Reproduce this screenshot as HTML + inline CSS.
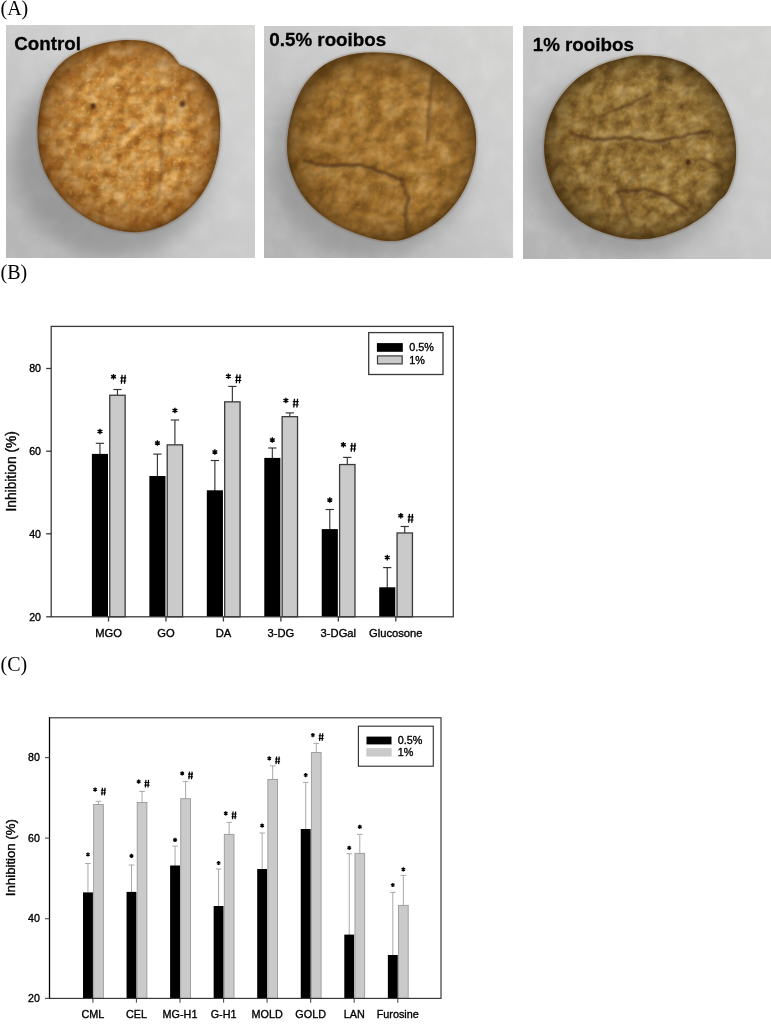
<!DOCTYPE html>
<html><head><meta charset="utf-8"><style>
html,body{margin:0;padding:0;background:#fff;}
body{width:771px;height:1032px;overflow:hidden;font-family:"Liberation Sans",sans-serif;}
svg{display:block;will-change:transform;}
</style></head><body>
<svg width="771" height="1032" viewBox="0 0 771 1032">
<defs><filter id="cf1" filterUnits="userSpaceOnUse" x="6" y="25" width="249" height="233" color-interpolation-filters="sRGB">
  <feTurbulence type="fractalNoise" baseFrequency="0.07" numOctaves="4" seed="11" result="n"/>
  <feColorMatrix in="n" type="matrix" values="1 0 0 0 0  1 0 0 0 0  1 0 0 0 0  0 0 0 0 1" result="g"/>
  <feComponentTransfer in="g" result="c">
    <feFuncR type="table" tableValues="0.573 0.596 0.620 0.643 0.667 0.690 0.714 0.736 0.759 0.781 0.804 0.821 0.837 0.854 0.871 0.880 0.889 0.898 0.907 0.916 0.925"/>
    <feFuncG type="table" tableValues="0.322 0.345 0.369 0.392 0.416 0.439 0.463 0.490 0.518 0.545 0.573 0.598 0.624 0.649 0.675 0.692 0.708 0.725 0.742 0.759 0.776"/>
    <feFuncB type="table" tableValues="0.094 0.108 0.123 0.137 0.152 0.166 0.180 0.202 0.224 0.245 0.267 0.298 0.329 0.361 0.392 0.418 0.444 0.471 0.497 0.523 0.549"/>
  </feComponentTransfer>
  <feTurbulence type="fractalNoise" baseFrequency="0.112" numOctaves="2" seed="31" result="n2"/>
  <feColorMatrix in="n2" type="matrix" values="0 0 0 0 0  0 0 0 0 0  0 0 0 0 0  1 0 0 0 0" result="h0"/>
  <feGaussianBlur in="h0" stdDeviation="1.2" result="h"/>
  <feDiffuseLighting in="h" surfaceScale="3" diffuseConstant="1.0" lighting-color="#fff" result="l">
    <feDistantLight azimuth="235" elevation="50"/>
  </feDiffuseLighting>
  <feComposite in="c" in2="l" operator="arithmetic" k1="0.4" k2="0.66" k3="0" k4="0" result="m"/>
  <feTurbulence type="fractalNoise" baseFrequency="0.22" numOctaves="2" seed="51" result="n3"/>
  <feColorMatrix in="n3" type="matrix" values="0 0 0 0 0.933  0 0 0 0 0.824  0 0 0 0 0.627  6 0 0 0 -3.7" result="sp"/>
  <feComponentTransfer in="sp" result="sp2"><feFuncA type="linear" slope="0.32"/></feComponentTransfer>
  <feComposite in="sp2" in2="m" operator="over" result="m2"/>
  <feComposite in="m2" in2="SourceAlpha" operator="in"/>
</filter><filter id="cf2" filterUnits="userSpaceOnUse" x="264" y="26" width="249" height="232" color-interpolation-filters="sRGB">
  <feTurbulence type="fractalNoise" baseFrequency="0.06" numOctaves="4" seed="5" result="n"/>
  <feColorMatrix in="n" type="matrix" values="1 0 0 0 0  1 0 0 0 0  1 0 0 0 0  0 0 0 0 1" result="g"/>
  <feComponentTransfer in="g" result="c">
    <feFuncR type="table" tableValues="0.463 0.484 0.505 0.525 0.546 0.567 0.588 0.608 0.627 0.647 0.667 0.682 0.698 0.714 0.729 0.740 0.750 0.761 0.771 0.782 0.792"/>
    <feFuncG type="table" tableValues="0.306 0.323 0.340 0.357 0.374 0.391 0.408 0.425 0.441 0.458 0.475 0.493 0.512 0.530 0.549 0.562 0.575 0.588 0.601 0.614 0.627"/>
    <feFuncB type="table" tableValues="0.098 0.109 0.120 0.131 0.142 0.154 0.165 0.175 0.184 0.194 0.204 0.224 0.243 0.263 0.282 0.298 0.314 0.329 0.345 0.361 0.376"/>
  </feComponentTransfer>
  <feTurbulence type="fractalNoise" baseFrequency="0.096" numOctaves="2" seed="25" result="n2"/>
  <feColorMatrix in="n2" type="matrix" values="0 0 0 0 0  0 0 0 0 0  0 0 0 0 0  1 0 0 0 0" result="h0"/>
  <feGaussianBlur in="h0" stdDeviation="1.2" result="h"/>
  <feDiffuseLighting in="h" surfaceScale="3" diffuseConstant="1.0" lighting-color="#fff" result="l">
    <feDistantLight azimuth="235" elevation="50"/>
  </feDiffuseLighting>
  <feComposite in="c" in2="l" operator="arithmetic" k1="0.4" k2="0.66" k3="0" k4="0" result="m"/>
  <feTurbulence type="fractalNoise" baseFrequency="0.22" numOctaves="2" seed="45" result="n3"/>
  <feColorMatrix in="n3" type="matrix" values="0 0 0 0 0.804  0 0 0 0 0.647  0 0 0 0 0.392  6 0 0 0 -3.7" result="sp"/>
  <feComponentTransfer in="sp" result="sp2"><feFuncA type="linear" slope="0.22"/></feComponentTransfer>
  <feComposite in="sp2" in2="m" operator="over" result="m2"/>
  <feComposite in="m2" in2="SourceAlpha" operator="in"/>
</filter><filter id="cf3" filterUnits="userSpaceOnUse" x="523" y="26" width="248" height="233" color-interpolation-filters="sRGB">
  <feTurbulence type="fractalNoise" baseFrequency="0.07" numOctaves="4" seed="8" result="n"/>
  <feColorMatrix in="n" type="matrix" values="1 0 0 0 0  1 0 0 0 0  1 0 0 0 0  0 0 0 0 1" result="g"/>
  <feComponentTransfer in="g" result="c">
    <feFuncR type="table" tableValues="0.345 0.373 0.400 0.427 0.455 0.482 0.510 0.535 0.561 0.586 0.612 0.632 0.653 0.674 0.694 0.706 0.718 0.729 0.741 0.753 0.765"/>
    <feFuncG type="table" tableValues="0.243 0.265 0.288 0.310 0.332 0.354 0.376 0.401 0.425 0.450 0.475 0.498 0.522 0.545 0.569 0.582 0.596 0.610 0.624 0.637 0.651"/>
    <feFuncB type="table" tableValues="0.098 0.110 0.123 0.135 0.148 0.160 0.173 0.186 0.200 0.214 0.227 0.251 0.275 0.298 0.322 0.339 0.356 0.373 0.390 0.407 0.424"/>
  </feComponentTransfer>
  <feTurbulence type="fractalNoise" baseFrequency="0.112" numOctaves="2" seed="28" result="n2"/>
  <feColorMatrix in="n2" type="matrix" values="0 0 0 0 0  0 0 0 0 0  0 0 0 0 0  1 0 0 0 0" result="h0"/>
  <feGaussianBlur in="h0" stdDeviation="1.2" result="h"/>
  <feDiffuseLighting in="h" surfaceScale="3" diffuseConstant="1.0" lighting-color="#fff" result="l">
    <feDistantLight azimuth="235" elevation="50"/>
  </feDiffuseLighting>
  <feComposite in="c" in2="l" operator="arithmetic" k1="0.4" k2="0.66" k3="0" k4="0" result="m"/>
  <feTurbulence type="fractalNoise" baseFrequency="0.22" numOctaves="2" seed="48" result="n3"/>
  <feColorMatrix in="n3" type="matrix" values="0 0 0 0 0.784  0 0 0 0 0.690  0 0 0 0 0.486  6 0 0 0 -3.7" result="sp"/>
  <feComponentTransfer in="sp" result="sp2"><feFuncA type="linear" slope="0.22"/></feComponentTransfer>
  <feComposite in="sp2" in2="m" operator="over" result="m2"/>
  <feComposite in="m2" in2="SourceAlpha" operator="in"/>
</filter><filter id="bf1" filterUnits="userSpaceOnUse" x="6" y="25" width="249" height="233" color-interpolation-filters="sRGB">
  <feTurbulence type="fractalNoise" baseFrequency="0.05" numOctaves="3" seed="3" result="n"/>
  <feColorMatrix in="n" type="matrix" values="0 0 0 0 1  0 0 0 0 1  0 0 0 0 1  1.4 0 0 0 -0.55" result="a"/>
  <feComposite in="a" in2="SourceAlpha" operator="in"/>
</filter><filter id="bf2" filterUnits="userSpaceOnUse" x="264" y="26" width="249" height="232" color-interpolation-filters="sRGB">
  <feTurbulence type="fractalNoise" baseFrequency="0.05" numOctaves="3" seed="6" result="n"/>
  <feColorMatrix in="n" type="matrix" values="0 0 0 0 1  0 0 0 0 1  0 0 0 0 1  1.4 0 0 0 -0.55" result="a"/>
  <feComposite in="a" in2="SourceAlpha" operator="in"/>
</filter><filter id="bf3" filterUnits="userSpaceOnUse" x="523" y="26" width="248" height="233" color-interpolation-filters="sRGB">
  <feTurbulence type="fractalNoise" baseFrequency="0.05" numOctaves="3" seed="9" result="n"/>
  <feColorMatrix in="n" type="matrix" values="0 0 0 0 1  0 0 0 0 1  0 0 0 0 1  1.4 0 0 0 -0.55" result="a"/>
  <feComposite in="a" in2="SourceAlpha" operator="in"/>
</filter>
<linearGradient id="bg1" x1="1" y1="0" x2="0" y2="1">
  <stop offset="0" stop-color="#d4d5d3"/><stop offset="0.45" stop-color="#cbcccb"/><stop offset="1" stop-color="#b4b4b5"/>
</linearGradient>
<linearGradient id="bg2" x1="1" y1="0" x2="0" y2="1">
  <stop offset="0" stop-color="#d3d4d2"/><stop offset="0.45" stop-color="#c9cac9"/><stop offset="1" stop-color="#b0b0b1"/>
</linearGradient>
<linearGradient id="bg3" x1="1" y1="0" x2="0" y2="1">
  <stop offset="0" stop-color="#d2d3d1"/><stop offset="0.45" stop-color="#c9cac9"/><stop offset="1" stop-color="#b2b2b3"/>
</linearGradient>
<radialGradient id="rim1" cx="0.5" cy="0.5" r="0.5"><stop offset="0.66" stop-color="#5a3010" stop-opacity="0"/><stop offset="0.88" stop-color="#6a3810" stop-opacity="0.3"/><stop offset="1" stop-color="#4a2808" stop-opacity="0.6"/></radialGradient><linearGradient id="sh1" x1="0" y1="1" x2="1" y2="0"><stop offset="0" stop-color="#3a2008" stop-opacity="0.22"/><stop offset="0.5" stop-color="#3a2008" stop-opacity="0"/><stop offset="1" stop-color="#fff" stop-opacity="0.06"/></linearGradient>
<radialGradient id="rim2" cx="0.5" cy="0.5" r="0.5"><stop offset="0.72" stop-color="#4a3010" stop-opacity="0"/><stop offset="0.9" stop-color="#4a3010" stop-opacity="0.28"/><stop offset="1" stop-color="#3a2508" stop-opacity="0.6"/></radialGradient><linearGradient id="sh2" x1="0" y1="1" x2="1" y2="0"><stop offset="0" stop-color="#3a2008" stop-opacity="0.22"/><stop offset="0.5" stop-color="#3a2008" stop-opacity="0"/><stop offset="1" stop-color="#fff" stop-opacity="0.06"/></linearGradient>
<radialGradient id="rim3" cx="0.5" cy="0.5" r="0.5"><stop offset="0.72" stop-color="#3a2a10" stop-opacity="0"/><stop offset="0.9" stop-color="#3a2a10" stop-opacity="0.28"/><stop offset="1" stop-color="#302008" stop-opacity="0.6"/></radialGradient><linearGradient id="sh3" x1="0" y1="1" x2="1" y2="0"><stop offset="0" stop-color="#3a2008" stop-opacity="0.22"/><stop offset="0.5" stop-color="#3a2008" stop-opacity="0"/><stop offset="1" stop-color="#fff" stop-opacity="0.06"/></linearGradient>
<filter id="blur6" x="-30%" y="-30%" width="160%" height="160%"><feGaussianBlur stdDeviation="10"/></filter>
<filter id="blur1" x="-20%" y="-20%" width="140%" height="140%"><feGaussianBlur stdDeviation="1"/></filter>
<filter id="blur2" x="-30%" y="-30%" width="160%" height="160%"><feGaussianBlur stdDeviation="1.8"/></filter>
<filter id="blur08" x="-20%" y="-20%" width="140%" height="140%"><feGaussianBlur stdDeviation="0.8"/></filter>
</defs>
<rect width="771" height="1032" fill="#fff"/>
<clipPath id="cp1"><rect x="6" y="25" width="249" height="233"/></clipPath>
<g clip-path="url(#cp1)">
<rect x="6" y="25" width="249" height="233" fill="url(#bg1)"/>
<rect x="6" y="25" width="249" height="233" fill="#fff" opacity="0.18" filter="url(#bf1)"/>
<ellipse cx="112" cy="160" rx="100" ry="98" fill="#5a5a5c" opacity="0.36" filter="url(#blur6)"/>
<path d="M46.8,83.8 C50.7,75.7 55.9,67.9 62.9,61.8 C69.8,55.8 79.2,51.1 88.3,47.5 C97.4,44.0 109.0,41.8 117.4,40.7 C125.9,39.5 132.9,40.1 139.1,40.6 C145.3,41.1 150.0,42.4 154.4,43.8 C158.8,45.2 162.4,47.2 165.4,49.1 C168.4,50.9 170.6,53.1 172.5,54.9 C174.3,56.8 175.2,58.7 176.4,60.3 C177.6,61.9 178.3,63.3 179.8,64.4 C181.3,65.4 182.8,65.6 185.2,66.7 C187.5,67.8 191.0,69.1 193.9,70.8 C196.7,72.5 199.8,74.6 202.3,76.7 C204.8,78.8 206.9,80.8 208.8,83.3 C210.8,85.7 212.6,88.3 214.1,91.3 C215.5,94.3 216.8,97.6 217.7,101.3 C218.6,105.0 219.0,108.7 219.4,113.3 C219.9,117.9 220.4,122.1 220.2,129.1 C219.9,136.0 219.7,146.1 217.8,155.0 C215.8,163.9 213.1,173.9 208.7,182.5 C204.3,191.1 198.4,199.6 191.5,206.5 C184.6,213.4 176.1,219.5 167.5,223.7 C158.9,227.9 149.2,231.1 140.0,232.0 C130.8,232.8 121.2,231.5 112.0,229.0 C102.8,226.4 93.1,222.2 84.5,216.7 C75.9,211.2 67.3,203.9 60.5,195.9 C53.8,188.0 47.6,178.2 43.8,169.0 C40.1,159.8 38.6,150.3 37.8,140.5 C37.1,130.7 37.8,119.7 39.3,110.3 C40.8,100.9 42.9,91.9 46.8,83.8Z" fill="#000" filter="url(#cf1)"/>
<clipPath id="ckc1"><path d="M46.8,83.8 C50.7,75.7 55.9,67.9 62.9,61.8 C69.8,55.8 79.2,51.1 88.3,47.5 C97.4,44.0 109.0,41.8 117.4,40.7 C125.9,39.5 132.9,40.1 139.1,40.6 C145.3,41.1 150.0,42.4 154.4,43.8 C158.8,45.2 162.4,47.2 165.4,49.1 C168.4,50.9 170.6,53.1 172.5,54.9 C174.3,56.8 175.2,58.7 176.4,60.3 C177.6,61.9 178.3,63.3 179.8,64.4 C181.3,65.4 182.8,65.6 185.2,66.7 C187.5,67.8 191.0,69.1 193.9,70.8 C196.7,72.5 199.8,74.6 202.3,76.7 C204.8,78.8 206.9,80.8 208.8,83.3 C210.8,85.7 212.6,88.3 214.1,91.3 C215.5,94.3 216.8,97.6 217.7,101.3 C218.6,105.0 219.0,108.7 219.4,113.3 C219.9,117.9 220.4,122.1 220.2,129.1 C219.9,136.0 219.7,146.1 217.8,155.0 C215.8,163.9 213.1,173.9 208.7,182.5 C204.3,191.1 198.4,199.6 191.5,206.5 C184.6,213.4 176.1,219.5 167.5,223.7 C158.9,227.9 149.2,231.1 140.0,232.0 C130.8,232.8 121.2,231.5 112.0,229.0 C102.8,226.4 93.1,222.2 84.5,216.7 C75.9,211.2 67.3,203.9 60.5,195.9 C53.8,188.0 47.6,178.2 43.8,169.0 C40.1,159.8 38.6,150.3 37.8,140.5 C37.1,130.7 37.8,119.7 39.3,110.3 C40.8,100.9 42.9,91.9 46.8,83.8Z"/></clipPath><g clip-path="url(#ckc1)">
<path d="M165.8,109.8 C165.8,110.5 165.6,112.5 165.5,113.9 C165.4,115.2 165.6,116.6 165.2,117.9 C164.9,119.2 163.8,120.4 163.6,121.8 C163.4,123.1 164.3,124.6 164.1,125.9 C164.0,127.3 162.9,128.5 162.6,129.8 C162.3,131.1 162.4,132.5 162.3,133.8 C162.3,135.2 162.6,136.6 162.3,137.9 C162.0,139.3 160.8,140.5 160.8,141.8 C160.7,143.1 161.9,144.6 162.0,146.0 C162.1,147.5 161.4,148.9 161.5,150.4 C161.6,151.8 162.3,153.2 162.5,154.6 C162.7,156.0 162.8,157.5 162.8,158.9 C162.7,160.3 162.5,161.8 162.4,163.2 C162.2,164.7 161.7,166.1 161.9,167.6 C162.1,169.0 163.4,170.5 163.5,171.9 C163.7,173.3 163.1,174.8 162.8,176.2 C162.4,177.6 161.8,178.9 161.4,180.3 C161.0,181.7 160.4,183.1 160.2,184.5 C160.0,186.0 160.4,187.5 160.4,188.9 C160.4,190.4 160.5,191.8 160.1,193.3 C159.8,194.7 158.7,196.0 158.4,197.4 C158.2,198.8 158.7,201.1 158.8,201.8" fill="none" stroke="#f0d8a8" stroke-width="1.80" stroke-linecap="round" opacity="0.12" filter="url(#blur1)"/>
<path d="M165.0,108.0 C165.0,108.7 164.8,110.7 164.7,112.1 C164.6,113.4 164.8,114.8 164.4,116.1 C164.1,117.4 163.0,118.6 162.8,120.0 C162.6,121.3 163.5,122.8 163.3,124.1 C163.2,125.5 162.1,126.7 161.8,128.0 C161.5,129.3 161.6,130.7 161.5,132.0 C161.5,133.4 161.8,134.8 161.5,136.1 C161.2,137.5 160.0,138.7 160.0,140.0 C159.9,141.3 161.1,142.8 161.2,144.2 C161.3,145.7 160.6,147.1 160.7,148.6 C160.8,150.0 161.5,151.4 161.7,152.8 C161.9,154.2 162.0,155.7 162.0,157.1 C161.9,158.5 161.7,160.0 161.6,161.4 C161.4,162.9 160.9,164.3 161.1,165.8 C161.3,167.2 162.6,168.7 162.7,170.1 C162.9,171.5 162.3,173.0 162.0,174.4 C161.6,175.8 161.0,177.1 160.6,178.5 C160.2,179.9 159.6,181.3 159.4,182.7 C159.2,184.2 159.6,185.7 159.6,187.1 C159.6,188.6 159.7,190.0 159.3,191.5 C159.0,192.9 157.9,194.2 157.6,195.6 C157.4,197.0 157.9,199.3 158.0,200.0" fill="none" stroke="#3a2410" stroke-width="4.00" stroke-linecap="round" opacity="0.12" filter="url(#blur2)"/>
<path d="M165.0,108.0 C165.0,108.7 164.8,110.7 164.7,112.1 C164.6,113.4 164.8,114.8 164.4,116.1 C164.1,117.4 163.0,118.6 162.8,120.0 C162.6,121.3 163.5,122.8 163.3,124.1 C163.2,125.5 162.1,126.7 161.8,128.0 C161.5,129.3 161.6,130.7 161.5,132.0 C161.5,133.4 161.8,134.8 161.5,136.1 C161.2,137.5 160.0,138.7 160.0,140.0 C159.9,141.3 161.1,142.8 161.2,144.2 C161.3,145.7 160.6,147.1 160.7,148.6 C160.8,150.0 161.5,151.4 161.7,152.8 C161.9,154.2 162.0,155.7 162.0,157.1 C161.9,158.5 161.7,160.0 161.6,161.4 C161.4,162.9 160.9,164.3 161.1,165.8 C161.3,167.2 162.6,168.7 162.7,170.1 C162.9,171.5 162.3,173.0 162.0,174.4 C161.6,175.8 161.0,177.1 160.6,178.5 C160.2,179.9 159.6,181.3 159.4,182.7 C159.2,184.2 159.6,185.7 159.6,187.1 C159.6,188.6 159.7,190.0 159.3,191.5 C159.0,192.9 157.9,194.2 157.6,195.6 C157.4,197.0 157.9,199.3 158.0,200.0" fill="none" stroke="#4a2c12" stroke-width="1.90" stroke-linecap="round" opacity="0.30" filter="url(#blur08)"/>
<path d="M200.8,79.8 C201.3,80.3 203.2,81.5 203.9,82.7 C204.6,83.9 204.3,85.8 205.0,87.0 C205.7,88.2 207.3,88.8 208.3,89.8 C209.3,90.8 210.2,91.8 211.0,93.0 C211.7,94.2 212.5,96.2 212.8,96.8" fill="none" stroke="#f0d8a8" stroke-width="2.25" stroke-linecap="round" opacity="0.14" filter="url(#blur1)"/>
<path d="M200.0,78.0 C200.5,78.5 202.4,79.7 203.1,80.9 C203.8,82.1 203.5,84.0 204.2,85.2 C204.9,86.4 206.5,87.0 207.5,88.0 C208.5,89.0 209.4,90.0 210.2,91.2 C210.9,92.4 211.7,94.4 212.0,95.0" fill="none" stroke="#3a2410" stroke-width="5.00" stroke-linecap="round" opacity="0.14" filter="url(#blur2)"/>
<path d="M200.0,78.0 C200.5,78.5 202.4,79.7 203.1,80.9 C203.8,82.1 203.5,84.0 204.2,85.2 C204.9,86.4 206.5,87.0 207.5,88.0 C208.5,89.0 209.4,90.0 210.2,91.2 C210.9,92.4 211.7,94.4 212.0,95.0" fill="none" stroke="#4a2c12" stroke-width="2.38" stroke-linecap="round" opacity="0.34" filter="url(#blur08)"/>
<ellipse cx="93" cy="106" rx="2.6" ry="3.12" fill="#3a1e08" opacity="0.85" filter="url(#blur08)"/>
<ellipse cx="182.5" cy="104" rx="2.8" ry="3.36" fill="#3a1e08" opacity="0.8" filter="url(#blur08)"/>
<ellipse cx="172" cy="80" rx="1.5" ry="1.80" fill="#3a1e08" opacity="0.4" filter="url(#blur08)"/>
</g>
<path d="M46.8,83.8 C50.7,75.7 55.9,67.9 62.9,61.8 C69.8,55.8 79.2,51.1 88.3,47.5 C97.4,44.0 109.0,41.8 117.4,40.7 C125.9,39.5 132.9,40.1 139.1,40.6 C145.3,41.1 150.0,42.4 154.4,43.8 C158.8,45.2 162.4,47.2 165.4,49.1 C168.4,50.9 170.6,53.1 172.5,54.9 C174.3,56.8 175.2,58.7 176.4,60.3 C177.6,61.9 178.3,63.3 179.8,64.4 C181.3,65.4 182.8,65.6 185.2,66.7 C187.5,67.8 191.0,69.1 193.9,70.8 C196.7,72.5 199.8,74.6 202.3,76.7 C204.8,78.8 206.9,80.8 208.8,83.3 C210.8,85.7 212.6,88.3 214.1,91.3 C215.5,94.3 216.8,97.6 217.7,101.3 C218.6,105.0 219.0,108.7 219.4,113.3 C219.9,117.9 220.4,122.1 220.2,129.1 C219.9,136.0 219.7,146.1 217.8,155.0 C215.8,163.9 213.1,173.9 208.7,182.5 C204.3,191.1 198.4,199.6 191.5,206.5 C184.6,213.4 176.1,219.5 167.5,223.7 C158.9,227.9 149.2,231.1 140.0,232.0 C130.8,232.8 121.2,231.5 112.0,229.0 C102.8,226.4 93.1,222.2 84.5,216.7 C75.9,211.2 67.3,203.9 60.5,195.9 C53.8,188.0 47.6,178.2 43.8,169.0 C40.1,159.8 38.6,150.3 37.8,140.5 C37.1,130.7 37.8,119.7 39.3,110.3 C40.8,100.9 42.9,91.9 46.8,83.8Z" fill="url(#sh1)"/>
<path d="M46.8,83.8 C50.7,75.7 55.9,67.9 62.9,61.8 C69.8,55.8 79.2,51.1 88.3,47.5 C97.4,44.0 109.0,41.8 117.4,40.7 C125.9,39.5 132.9,40.1 139.1,40.6 C145.3,41.1 150.0,42.4 154.4,43.8 C158.8,45.2 162.4,47.2 165.4,49.1 C168.4,50.9 170.6,53.1 172.5,54.9 C174.3,56.8 175.2,58.7 176.4,60.3 C177.6,61.9 178.3,63.3 179.8,64.4 C181.3,65.4 182.8,65.6 185.2,66.7 C187.5,67.8 191.0,69.1 193.9,70.8 C196.7,72.5 199.8,74.6 202.3,76.7 C204.8,78.8 206.9,80.8 208.8,83.3 C210.8,85.7 212.6,88.3 214.1,91.3 C215.5,94.3 216.8,97.6 217.7,101.3 C218.6,105.0 219.0,108.7 219.4,113.3 C219.9,117.9 220.4,122.1 220.2,129.1 C219.9,136.0 219.7,146.1 217.8,155.0 C215.8,163.9 213.1,173.9 208.7,182.5 C204.3,191.1 198.4,199.6 191.5,206.5 C184.6,213.4 176.1,219.5 167.5,223.7 C158.9,227.9 149.2,231.1 140.0,232.0 C130.8,232.8 121.2,231.5 112.0,229.0 C102.8,226.4 93.1,222.2 84.5,216.7 C75.9,211.2 67.3,203.9 60.5,195.9 C53.8,188.0 47.6,178.2 43.8,169.0 C40.1,159.8 38.6,150.3 37.8,140.5 C37.1,130.7 37.8,119.7 39.3,110.3 C40.8,100.9 42.9,91.9 46.8,83.8Z" fill="url(#rim1)"/>
<path d="M46.8,83.8 C50.7,75.7 55.9,67.9 62.9,61.8 C69.8,55.8 79.2,51.1 88.3,47.5 C97.4,44.0 109.0,41.8 117.4,40.7 C125.9,39.5 132.9,40.1 139.1,40.6 C145.3,41.1 150.0,42.4 154.4,43.8 C158.8,45.2 162.4,47.2 165.4,49.1 C168.4,50.9 170.6,53.1 172.5,54.9 C174.3,56.8 175.2,58.7 176.4,60.3 C177.6,61.9 178.3,63.3 179.8,64.4 C181.3,65.4 182.8,65.6 185.2,66.7 C187.5,67.8 191.0,69.1 193.9,70.8 C196.7,72.5 199.8,74.6 202.3,76.7 C204.8,78.8 206.9,80.8 208.8,83.3 C210.8,85.7 212.6,88.3 214.1,91.3 C215.5,94.3 216.8,97.6 217.7,101.3 C218.6,105.0 219.0,108.7 219.4,113.3 C219.9,117.9 220.4,122.1 220.2,129.1 C219.9,136.0 219.7,146.1 217.8,155.0 C215.8,163.9 213.1,173.9 208.7,182.5 C204.3,191.1 198.4,199.6 191.5,206.5 C184.6,213.4 176.1,219.5 167.5,223.7 C158.9,227.9 149.2,231.1 140.0,232.0 C130.8,232.8 121.2,231.5 112.0,229.0 C102.8,226.4 93.1,222.2 84.5,216.7 C75.9,211.2 67.3,203.9 60.5,195.9 C53.8,188.0 47.6,178.2 43.8,169.0 C40.1,159.8 38.6,150.3 37.8,140.5 C37.1,130.7 37.8,119.7 39.3,110.3 C40.8,100.9 42.9,91.9 46.8,83.8Z" fill="none" stroke="#4a2c10" stroke-width="1.6" opacity="0.45" filter="url(#blur08)"/>
</g>
<text x="14.20" y="50.40" font-family="Liberation Sans" font-size="18.8" font-weight="bold" text-anchor="start" fill="#000" stroke="#000" stroke-width="0.3">Control</text>
<clipPath id="cp2"><rect x="264" y="26" width="249" height="232"/></clipPath>
<g clip-path="url(#cp2)">
<rect x="264" y="26" width="249" height="232" fill="url(#bg2)"/>
<rect x="264" y="26" width="249" height="232" fill="#fff" opacity="0.18" filter="url(#bf2)"/>
<ellipse cx="370" cy="162" rx="100" ry="97" fill="#5a5a5c" opacity="0.32" filter="url(#blur6)"/>
<path d="M371.0,52.6 C380.7,52.2 391.9,52.8 401.0,54.6 C410.0,56.3 418.3,59.4 425.5,63.1 C432.7,66.7 438.2,71.5 444.0,76.6 C449.9,81.6 456.0,86.7 460.8,93.3 C465.5,100.0 469.9,108.5 472.5,116.5 C475.1,124.5 476.2,132.8 476.2,141.5 C476.2,150.3 475.2,159.8 472.5,169.0 C469.8,178.2 465.9,187.9 460.3,196.5 C454.7,205.1 447.3,213.8 439.0,220.5 C430.7,227.3 419.3,233.5 410.6,236.9 C401.9,240.3 395.5,241.4 386.9,241.0 C378.4,240.6 369.0,238.0 359.5,234.6 C349.9,231.1 338.5,226.4 329.6,220.5 C320.6,214.7 311.9,207.5 305.6,199.5 C299.2,191.6 294.6,181.9 291.5,173.1 C288.4,164.3 287.1,156.3 287.1,147.0 C287.0,137.6 288.5,126.6 290.9,117.0 C293.4,107.5 296.9,97.6 301.6,89.5 C306.2,81.5 312.1,74.3 319.1,68.8 C326.0,63.3 334.4,59.3 343.0,56.6 C351.7,53.9 361.4,52.9 371.0,52.6Z" fill="#000" filter="url(#cf2)"/>
<clipPath id="ckc2"><path d="M371.0,52.6 C380.7,52.2 391.9,52.8 401.0,54.6 C410.0,56.3 418.3,59.4 425.5,63.1 C432.7,66.7 438.2,71.5 444.0,76.6 C449.9,81.6 456.0,86.7 460.8,93.3 C465.5,100.0 469.9,108.5 472.5,116.5 C475.1,124.5 476.2,132.8 476.2,141.5 C476.2,150.3 475.2,159.8 472.5,169.0 C469.8,178.2 465.9,187.9 460.3,196.5 C454.7,205.1 447.3,213.8 439.0,220.5 C430.7,227.3 419.3,233.5 410.6,236.9 C401.9,240.3 395.5,241.4 386.9,241.0 C378.4,240.6 369.0,238.0 359.5,234.6 C349.9,231.1 338.5,226.4 329.6,220.5 C320.6,214.7 311.9,207.5 305.6,199.5 C299.2,191.6 294.6,181.9 291.5,173.1 C288.4,164.3 287.1,156.3 287.1,147.0 C287.0,137.6 288.5,126.6 290.9,117.0 C293.4,107.5 296.9,97.6 301.6,89.5 C306.2,81.5 312.1,74.3 319.1,68.8 C326.0,63.3 334.4,59.3 343.0,56.6 C351.7,53.9 361.4,52.9 371.0,52.6Z"/></clipPath><g clip-path="url(#ckc2)">
<path d="M304.8,162.8 C305.5,162.8 307.6,162.8 309.0,163.1 C310.3,163.3 311.6,163.9 312.9,164.4 C314.2,165.0 315.3,166.1 316.6,166.4 C318.0,166.7 319.5,166.0 320.8,166.2 C322.2,166.3 323.5,166.9 324.8,167.2 C326.1,167.4 327.4,167.5 328.8,167.5 C330.1,167.5 331.5,167.1 332.8,167.1 C334.1,167.2 335.5,167.7 336.8,167.7 C338.1,167.7 339.4,167.1 340.8,166.9 C342.1,166.8 343.4,166.7 344.8,166.7 C346.1,166.7 347.4,166.7 348.8,166.8 C350.1,167.0 351.5,167.6 352.8,167.6 C354.2,167.6 355.4,167.0 356.8,166.9 C358.1,166.7 359.5,166.2 360.9,166.4 C362.3,166.7 363.7,167.9 365.1,168.4 C366.6,168.9 368.1,169.1 369.6,169.5 C371.1,169.9 372.7,170.0 374.1,170.6 C375.6,171.2 376.8,172.4 378.2,173.0 C379.6,173.6 381.2,173.8 382.7,174.2 C384.1,174.5 385.6,174.4 387.0,174.9 C388.3,175.4 389.4,176.5 390.7,177.1 C392.0,177.8 393.5,178.0 394.8,178.6 C396.1,179.3 397.2,180.4 398.5,180.9 C399.9,181.4 402.1,181.6 402.8,181.8" fill="none" stroke="#f0d8a8" stroke-width="2.16" stroke-linecap="round" opacity="0.26" filter="url(#blur1)"/>
<path d="M304.0,161.0 C304.7,161.0 306.8,161.0 308.2,161.3 C309.5,161.5 310.8,162.1 312.1,162.6 C313.4,163.2 314.5,164.3 315.8,164.6 C317.2,164.9 318.7,164.2 320.0,164.4 C321.4,164.5 322.7,165.1 324.0,165.4 C325.3,165.6 326.6,165.7 328.0,165.7 C329.3,165.7 330.7,165.3 332.0,165.3 C333.3,165.4 334.7,165.9 336.0,165.9 C337.3,165.9 338.6,165.3 340.0,165.1 C341.3,165.0 342.6,164.9 344.0,164.9 C345.3,164.9 346.6,164.9 348.0,165.0 C349.3,165.2 350.7,165.8 352.0,165.8 C353.4,165.8 354.6,165.2 356.0,165.1 C357.3,164.9 358.7,164.4 360.1,164.6 C361.5,164.9 362.9,166.1 364.3,166.6 C365.8,167.1 367.3,167.3 368.8,167.7 C370.3,168.1 371.9,168.2 373.3,168.8 C374.8,169.4 376.0,170.6 377.4,171.2 C378.8,171.8 380.4,172.0 381.9,172.4 C383.3,172.7 384.8,172.6 386.2,173.1 C387.5,173.6 388.6,174.7 389.9,175.3 C391.2,176.0 392.7,176.2 394.0,176.8 C395.3,177.5 396.4,178.6 397.7,179.1 C399.1,179.6 401.3,179.8 402.0,180.0" fill="none" stroke="#3a2410" stroke-width="4.80" stroke-linecap="round" opacity="0.26" filter="url(#blur2)"/>
<path d="M304.0,161.0 C304.7,161.0 306.8,161.0 308.2,161.3 C309.5,161.5 310.8,162.1 312.1,162.6 C313.4,163.2 314.5,164.3 315.8,164.6 C317.2,164.9 318.7,164.2 320.0,164.4 C321.4,164.5 322.7,165.1 324.0,165.4 C325.3,165.6 326.6,165.7 328.0,165.7 C329.3,165.7 330.7,165.3 332.0,165.3 C333.3,165.4 334.7,165.9 336.0,165.9 C337.3,165.9 338.6,165.3 340.0,165.1 C341.3,165.0 342.6,164.9 344.0,164.9 C345.3,164.9 346.6,164.9 348.0,165.0 C349.3,165.2 350.7,165.8 352.0,165.8 C353.4,165.8 354.6,165.2 356.0,165.1 C357.3,164.9 358.7,164.4 360.1,164.6 C361.5,164.9 362.9,166.1 364.3,166.6 C365.8,167.1 367.3,167.3 368.8,167.7 C370.3,168.1 371.9,168.2 373.3,168.8 C374.8,169.4 376.0,170.6 377.4,171.2 C378.8,171.8 380.4,172.0 381.9,172.4 C383.3,172.7 384.8,172.6 386.2,173.1 C387.5,173.6 388.6,174.7 389.9,175.3 C391.2,176.0 392.7,176.2 394.0,176.8 C395.3,177.5 396.4,178.6 397.7,179.1 C399.1,179.6 401.3,179.8 402.0,180.0" fill="none" stroke="#4a2c12" stroke-width="2.28" stroke-linecap="round" opacity="0.64" filter="url(#blur08)"/>
<path d="M402.8,181.8 C403.0,182.6 403.3,185.0 403.9,186.4 C404.4,187.9 405.8,189.1 406.2,190.7 C406.6,192.2 405.8,194.1 406.4,195.6 C406.9,197.1 409.2,198.5 409.6,199.9 C409.9,201.4 408.7,202.9 408.2,204.3 C407.8,205.8 407.0,207.2 406.8,208.7 C406.6,210.2 407.4,211.9 407.2,213.4 C407.1,214.9 405.8,216.3 405.8,217.8 C405.9,219.3 407.3,220.6 407.5,222.1 C407.7,223.7 407.0,225.3 407.0,226.9 C407.0,228.4 407.2,229.9 407.5,231.4 C407.8,232.9 408.6,235.1 408.8,235.8" fill="none" stroke="#f0d8a8" stroke-width="1.98" stroke-linecap="round" opacity="0.26" filter="url(#blur1)"/>
<path d="M402.0,180.0 C402.2,180.8 402.5,183.2 403.1,184.6 C403.6,186.1 405.0,187.3 405.4,188.9 C405.8,190.4 405.0,192.3 405.6,193.8 C406.1,195.3 408.4,196.7 408.8,198.1 C409.1,199.6 407.9,201.1 407.4,202.5 C407.0,204.0 406.2,205.4 406.0,206.9 C405.8,208.4 406.6,210.1 406.4,211.6 C406.3,213.1 405.0,214.5 405.0,216.0 C405.1,217.5 406.5,218.8 406.7,220.3 C406.9,221.9 406.2,223.5 406.2,225.1 C406.2,226.6 406.4,228.1 406.7,229.6 C407.0,231.1 407.8,233.3 408.0,234.0" fill="none" stroke="#3a2410" stroke-width="4.40" stroke-linecap="round" opacity="0.26" filter="url(#blur2)"/>
<path d="M402.0,180.0 C402.2,180.8 402.5,183.2 403.1,184.6 C403.6,186.1 405.0,187.3 405.4,188.9 C405.8,190.4 405.0,192.3 405.6,193.8 C406.1,195.3 408.4,196.7 408.8,198.1 C409.1,199.6 407.9,201.1 407.4,202.5 C407.0,204.0 406.2,205.4 406.0,206.9 C405.8,208.4 406.6,210.1 406.4,211.6 C406.3,213.1 405.0,214.5 405.0,216.0 C405.1,217.5 406.5,218.8 406.7,220.3 C406.9,221.9 406.2,223.5 406.2,225.1 C406.2,226.6 406.4,228.1 406.7,229.6 C407.0,231.1 407.8,233.3 408.0,234.0" fill="none" stroke="#4a2c12" stroke-width="2.09" stroke-linecap="round" opacity="0.64" filter="url(#blur08)"/>
<path d="M433.8,75.8 C433.7,76.5 433.5,78.6 433.3,80.0 C433.0,81.4 432.3,82.7 432.3,84.1 C432.2,85.5 433.0,87.0 433.0,88.4 C432.9,89.8 432.0,91.2 431.8,92.6 C431.6,94.0 431.7,95.3 431.6,96.8 C431.5,98.3 431.3,99.8 431.2,101.4 C431.2,102.9 431.3,104.5 431.1,106.0 C430.9,107.5 430.2,109.0 429.9,110.5 C429.6,112.1 429.3,113.6 429.3,115.1 C429.3,116.7 429.9,118.3 429.9,119.8 C429.8,121.3 429.2,122.7 429.3,124.2 C429.3,125.7 430.4,127.2 430.3,128.6 C430.2,130.1 429.1,131.5 428.8,133.0 C428.5,134.4 428.7,135.9 428.7,137.4 C428.7,138.9 428.8,141.1 428.8,141.8" fill="none" stroke="#f0d8a8" stroke-width="1.98" stroke-linecap="round" opacity="0.17" filter="url(#blur1)"/>
<path d="M433.0,74.0 C432.9,74.7 432.7,76.8 432.5,78.2 C432.2,79.6 431.5,80.9 431.5,82.3 C431.4,83.7 432.2,85.2 432.2,86.6 C432.1,88.0 431.2,89.4 431.0,90.8 C430.8,92.2 430.9,93.5 430.8,95.0 C430.7,96.5 430.5,98.0 430.4,99.6 C430.4,101.1 430.5,102.7 430.3,104.2 C430.1,105.7 429.4,107.2 429.1,108.7 C428.8,110.3 428.5,111.8 428.5,113.3 C428.5,114.9 429.1,116.5 429.1,118.0 C429.0,119.5 428.4,120.9 428.5,122.4 C428.5,123.9 429.6,125.4 429.5,126.8 C429.4,128.3 428.3,129.7 428.0,131.2 C427.7,132.6 427.9,134.1 427.9,135.6 C427.9,137.1 428.0,139.3 428.0,140.0" fill="none" stroke="#3a2410" stroke-width="4.40" stroke-linecap="round" opacity="0.17" filter="url(#blur2)"/>
<path d="M433.0,74.0 C432.9,74.7 432.7,76.8 432.5,78.2 C432.2,79.6 431.5,80.9 431.5,82.3 C431.4,83.7 432.2,85.2 432.2,86.6 C432.1,88.0 431.2,89.4 431.0,90.8 C430.8,92.2 430.9,93.5 430.8,95.0 C430.7,96.5 430.5,98.0 430.4,99.6 C430.4,101.1 430.5,102.7 430.3,104.2 C430.1,105.7 429.4,107.2 429.1,108.7 C428.8,110.3 428.5,111.8 428.5,113.3 C428.5,114.9 429.1,116.5 429.1,118.0 C429.0,119.5 428.4,120.9 428.5,122.4 C428.5,123.9 429.6,125.4 429.5,126.8 C429.4,128.3 428.3,129.7 428.0,131.2 C427.7,132.6 427.9,134.1 427.9,135.6 C427.9,137.1 428.0,139.3 428.0,140.0" fill="none" stroke="#4a2c12" stroke-width="2.09" stroke-linecap="round" opacity="0.42" filter="url(#blur08)"/>
</g>
<path d="M371.0,52.6 C380.7,52.2 391.9,52.8 401.0,54.6 C410.0,56.3 418.3,59.4 425.5,63.1 C432.7,66.7 438.2,71.5 444.0,76.6 C449.9,81.6 456.0,86.7 460.8,93.3 C465.5,100.0 469.9,108.5 472.5,116.5 C475.1,124.5 476.2,132.8 476.2,141.5 C476.2,150.3 475.2,159.8 472.5,169.0 C469.8,178.2 465.9,187.9 460.3,196.5 C454.7,205.1 447.3,213.8 439.0,220.5 C430.7,227.3 419.3,233.5 410.6,236.9 C401.9,240.3 395.5,241.4 386.9,241.0 C378.4,240.6 369.0,238.0 359.5,234.6 C349.9,231.1 338.5,226.4 329.6,220.5 C320.6,214.7 311.9,207.5 305.6,199.5 C299.2,191.6 294.6,181.9 291.5,173.1 C288.4,164.3 287.1,156.3 287.1,147.0 C287.0,137.6 288.5,126.6 290.9,117.0 C293.4,107.5 296.9,97.6 301.6,89.5 C306.2,81.5 312.1,74.3 319.1,68.8 C326.0,63.3 334.4,59.3 343.0,56.6 C351.7,53.9 361.4,52.9 371.0,52.6Z" fill="url(#sh2)"/>
<path d="M371.0,52.6 C380.7,52.2 391.9,52.8 401.0,54.6 C410.0,56.3 418.3,59.4 425.5,63.1 C432.7,66.7 438.2,71.5 444.0,76.6 C449.9,81.6 456.0,86.7 460.8,93.3 C465.5,100.0 469.9,108.5 472.5,116.5 C475.1,124.5 476.2,132.8 476.2,141.5 C476.2,150.3 475.2,159.8 472.5,169.0 C469.8,178.2 465.9,187.9 460.3,196.5 C454.7,205.1 447.3,213.8 439.0,220.5 C430.7,227.3 419.3,233.5 410.6,236.9 C401.9,240.3 395.5,241.4 386.9,241.0 C378.4,240.6 369.0,238.0 359.5,234.6 C349.9,231.1 338.5,226.4 329.6,220.5 C320.6,214.7 311.9,207.5 305.6,199.5 C299.2,191.6 294.6,181.9 291.5,173.1 C288.4,164.3 287.1,156.3 287.1,147.0 C287.0,137.6 288.5,126.6 290.9,117.0 C293.4,107.5 296.9,97.6 301.6,89.5 C306.2,81.5 312.1,74.3 319.1,68.8 C326.0,63.3 334.4,59.3 343.0,56.6 C351.7,53.9 361.4,52.9 371.0,52.6Z" fill="url(#rim2)"/>
<path d="M371.0,52.6 C380.7,52.2 391.9,52.8 401.0,54.6 C410.0,56.3 418.3,59.4 425.5,63.1 C432.7,66.7 438.2,71.5 444.0,76.6 C449.9,81.6 456.0,86.7 460.8,93.3 C465.5,100.0 469.9,108.5 472.5,116.5 C475.1,124.5 476.2,132.8 476.2,141.5 C476.2,150.3 475.2,159.8 472.5,169.0 C469.8,178.2 465.9,187.9 460.3,196.5 C454.7,205.1 447.3,213.8 439.0,220.5 C430.7,227.3 419.3,233.5 410.6,236.9 C401.9,240.3 395.5,241.4 386.9,241.0 C378.4,240.6 369.0,238.0 359.5,234.6 C349.9,231.1 338.5,226.4 329.6,220.5 C320.6,214.7 311.9,207.5 305.6,199.5 C299.2,191.6 294.6,181.9 291.5,173.1 C288.4,164.3 287.1,156.3 287.1,147.0 C287.0,137.6 288.5,126.6 290.9,117.0 C293.4,107.5 296.9,97.6 301.6,89.5 C306.2,81.5 312.1,74.3 319.1,68.8 C326.0,63.3 334.4,59.3 343.0,56.6 C351.7,53.9 361.4,52.9 371.0,52.6Z" fill="none" stroke="#4a2c10" stroke-width="1.6" opacity="0.45" filter="url(#blur08)"/>
</g>
<text x="269.30" y="45.50" font-family="Liberation Sans" font-size="18.8" font-weight="bold" text-anchor="start" fill="#000" stroke="#000" stroke-width="0.3">0.5% rooibos</text>
<clipPath id="cp3"><rect x="523" y="26" width="248" height="233"/></clipPath>
<g clip-path="url(#cp3)">
<rect x="523" y="26" width="248" height="233" fill="url(#bg3)"/>
<rect x="523" y="26" width="248" height="233" fill="#fff" opacity="0.18" filter="url(#bf3)"/>
<ellipse cx="630" cy="162" rx="100" ry="95" fill="#5a5a5c" opacity="0.32" filter="url(#blur6)"/>
<path d="M639.8,55.6 C647.5,55.4 658.2,55.7 666.7,57.5 C675.2,59.3 683.3,61.8 691.0,66.5 C698.7,71.2 706.8,78.2 713.0,85.7 C719.1,93.2 724.3,102.5 728.0,111.8 C731.8,121.0 734.4,131.5 735.5,141.2 C736.6,150.9 736.1,161.6 734.7,170.0 C733.3,178.5 730.1,186.5 727.2,191.8 C724.4,197.1 721.2,198.2 717.5,202.0 C713.8,205.8 711.3,210.1 705.1,214.7 C698.8,219.3 689.6,225.8 680.0,229.8 C670.5,233.8 658.7,237.8 647.8,238.8 C636.9,239.8 625.4,238.6 614.6,235.9 C603.8,233.2 592.1,228.8 582.9,222.7 C573.7,216.6 565.7,208.5 559.7,199.4 C553.6,190.3 549.1,178.5 546.6,168.2 C544.1,157.9 543.6,147.8 544.7,137.8 C545.8,127.9 548.6,117.6 553.2,108.5 C557.9,99.3 565.0,89.9 572.4,82.9 C579.8,75.9 589.5,70.3 597.5,66.3 C605.5,62.3 613.2,60.5 620.2,58.7 C627.3,56.9 632.0,55.8 639.8,55.6Z" fill="#000" filter="url(#cf3)"/>
<clipPath id="ckc3"><path d="M639.8,55.6 C647.5,55.4 658.2,55.7 666.7,57.5 C675.2,59.3 683.3,61.8 691.0,66.5 C698.7,71.2 706.8,78.2 713.0,85.7 C719.1,93.2 724.3,102.5 728.0,111.8 C731.8,121.0 734.4,131.5 735.5,141.2 C736.6,150.9 736.1,161.6 734.7,170.0 C733.3,178.5 730.1,186.5 727.2,191.8 C724.4,197.1 721.2,198.2 717.5,202.0 C713.8,205.8 711.3,210.1 705.1,214.7 C698.8,219.3 689.6,225.8 680.0,229.8 C670.5,233.8 658.7,237.8 647.8,238.8 C636.9,239.8 625.4,238.6 614.6,235.9 C603.8,233.2 592.1,228.8 582.9,222.7 C573.7,216.6 565.7,208.5 559.7,199.4 C553.6,190.3 549.1,178.5 546.6,168.2 C544.1,157.9 543.6,147.8 544.7,137.8 C545.8,127.9 548.6,117.6 553.2,108.5 C557.9,99.3 565.0,89.9 572.4,82.9 C579.8,75.9 589.5,70.3 597.5,66.3 C605.5,62.3 613.2,60.5 620.2,58.7 C627.3,56.9 632.0,55.8 639.8,55.6Z"/></clipPath><g clip-path="url(#ckc3)">
<path d="M572.8,134.8 C573.5,135.2 575.5,136.6 577.0,137.2 C578.5,137.8 580.0,138.1 581.6,138.4 C583.2,138.7 584.9,138.5 586.4,138.9 C588.0,139.3 589.4,140.1 590.8,140.6 C592.3,141.0 593.7,141.5 595.1,141.5 C596.6,141.5 598.1,140.5 599.5,140.5 C601.0,140.6 602.4,141.7 603.8,141.7 C605.2,141.8 606.5,141.0 607.9,140.8 C609.3,140.6 610.7,140.5 612.1,140.4 C613.5,140.2 614.8,139.8 616.2,139.9 C617.6,140.0 619.1,141.1 620.5,141.0 C621.9,140.9 623.2,139.7 624.6,139.4 C626.0,139.1 627.5,139.2 628.9,139.3 C630.3,139.4 631.5,139.8 632.8,140.2 C634.1,140.6 635.3,141.6 636.7,141.7 C638.0,141.8 639.6,140.7 640.9,140.8 C642.3,140.8 643.5,141.7 644.8,142.1 C646.1,142.5 647.4,142.7 648.8,142.9 C650.2,143.1 651.8,143.3 653.3,143.3 C654.8,143.3 656.3,143.0 657.8,142.9 C659.3,142.8 660.9,143.0 662.3,142.8 C663.8,142.5 665.2,141.7 666.7,141.4 C668.2,141.0 669.7,140.9 671.2,140.6 C672.6,140.3 674.0,139.7 675.5,139.5 C677.0,139.3 678.7,139.7 680.2,139.5 C681.7,139.4 683.2,139.3 684.6,138.7 C686.0,138.1 687.3,136.6 688.7,136.1 C690.1,135.6 691.5,135.7 692.9,135.6 C694.3,135.4 695.7,135.3 697.1,135.1 C698.5,134.9 699.9,134.6 701.3,134.5 C702.7,134.4 704.2,134.5 705.6,134.4 C707.0,134.3 709.1,133.9 709.8,133.8" fill="none" stroke="#f0d8a8" stroke-width="2.07" stroke-linecap="round" opacity="0.26" filter="url(#blur1)"/>
<path d="M572.0,133.0 C572.7,133.4 574.7,134.8 576.2,135.4 C577.7,136.0 579.2,136.3 580.8,136.6 C582.4,136.9 584.1,136.7 585.6,137.1 C587.2,137.5 588.6,138.3 590.0,138.8 C591.5,139.2 592.9,139.7 594.3,139.7 C595.8,139.7 597.3,138.7 598.7,138.7 C600.2,138.8 601.6,139.9 603.0,139.9 C604.4,140.0 605.7,139.2 607.1,139.0 C608.5,138.8 609.9,138.7 611.3,138.6 C612.7,138.4 614.0,138.0 615.4,138.1 C616.8,138.2 618.3,139.3 619.7,139.2 C621.1,139.1 622.4,137.9 623.8,137.6 C625.2,137.3 626.7,137.4 628.1,137.5 C629.5,137.6 630.7,138.0 632.0,138.4 C633.3,138.8 634.5,139.8 635.9,139.9 C637.2,140.0 638.8,138.9 640.1,139.0 C641.5,139.0 642.7,139.9 644.0,140.3 C645.3,140.7 646.6,140.9 648.0,141.1 C649.4,141.3 651.0,141.5 652.5,141.5 C654.0,141.5 655.5,141.2 657.0,141.1 C658.5,141.0 660.1,141.2 661.5,141.0 C663.0,140.7 664.4,139.9 665.9,139.6 C667.4,139.2 668.9,139.1 670.4,138.8 C671.8,138.5 673.2,137.9 674.7,137.7 C676.2,137.5 677.9,137.9 679.4,137.7 C680.9,137.6 682.4,137.5 683.8,136.9 C685.2,136.3 686.5,134.8 687.9,134.3 C689.3,133.8 690.7,133.9 692.1,133.8 C693.5,133.6 694.9,133.5 696.3,133.3 C697.7,133.1 699.1,132.8 700.5,132.7 C701.9,132.6 703.4,132.7 704.8,132.6 C706.2,132.5 708.3,132.1 709.0,132.0" fill="none" stroke="#3a2410" stroke-width="4.60" stroke-linecap="round" opacity="0.26" filter="url(#blur2)"/>
<path d="M572.0,133.0 C572.7,133.4 574.7,134.8 576.2,135.4 C577.7,136.0 579.2,136.3 580.8,136.6 C582.4,136.9 584.1,136.7 585.6,137.1 C587.2,137.5 588.6,138.3 590.0,138.8 C591.5,139.2 592.9,139.7 594.3,139.7 C595.8,139.7 597.3,138.7 598.7,138.7 C600.2,138.8 601.6,139.9 603.0,139.9 C604.4,140.0 605.7,139.2 607.1,139.0 C608.5,138.8 609.9,138.7 611.3,138.6 C612.7,138.4 614.0,138.0 615.4,138.1 C616.8,138.2 618.3,139.3 619.7,139.2 C621.1,139.1 622.4,137.9 623.8,137.6 C625.2,137.3 626.7,137.4 628.1,137.5 C629.5,137.6 630.7,138.0 632.0,138.4 C633.3,138.8 634.5,139.8 635.9,139.9 C637.2,140.0 638.8,138.9 640.1,139.0 C641.5,139.0 642.7,139.9 644.0,140.3 C645.3,140.7 646.6,140.9 648.0,141.1 C649.4,141.3 651.0,141.5 652.5,141.5 C654.0,141.5 655.5,141.2 657.0,141.1 C658.5,141.0 660.1,141.2 661.5,141.0 C663.0,140.7 664.4,139.9 665.9,139.6 C667.4,139.2 668.9,139.1 670.4,138.8 C671.8,138.5 673.2,137.9 674.7,137.7 C676.2,137.5 677.9,137.9 679.4,137.7 C680.9,137.6 682.4,137.5 683.8,136.9 C685.2,136.3 686.5,134.8 687.9,134.3 C689.3,133.8 690.7,133.9 692.1,133.8 C693.5,133.6 694.9,133.5 696.3,133.3 C697.7,133.1 699.1,132.8 700.5,132.7 C701.9,132.6 703.4,132.7 704.8,132.6 C706.2,132.5 708.3,132.1 709.0,132.0" fill="none" stroke="#4a2c12" stroke-width="2.18" stroke-linecap="round" opacity="0.64" filter="url(#blur08)"/>
<path d="M600.8,118.8 C601.5,118.5 603.7,117.9 605.1,117.2 C606.5,116.6 607.8,115.6 609.1,114.9 C610.5,114.1 611.7,113.2 613.2,112.6 C614.6,112.1 616.3,112.2 617.7,111.7 C619.2,111.1 620.5,110.2 621.9,109.6 C623.3,108.9 624.8,108.4 626.3,107.9 C627.7,107.4 629.4,107.2 630.8,106.6 C632.2,106.0 633.4,104.9 634.8,104.1 C636.1,103.3 637.5,102.5 638.8,101.8 C640.2,101.1 641.5,100.6 642.9,100.0 C644.3,99.4 645.6,98.8 647.0,98.1 C648.3,97.4 650.2,96.2 650.8,95.8" fill="none" stroke="#f0d8a8" stroke-width="1.80" stroke-linecap="round" opacity="0.19" filter="url(#blur1)"/>
<path d="M600.0,117.0 C600.7,116.7 602.9,116.1 604.3,115.4 C605.7,114.8 607.0,113.8 608.3,113.1 C609.7,112.3 610.9,111.4 612.4,110.8 C613.8,110.3 615.5,110.4 616.9,109.9 C618.4,109.3 619.7,108.4 621.1,107.8 C622.5,107.1 624.0,106.6 625.5,106.1 C626.9,105.6 628.6,105.4 630.0,104.8 C631.4,104.2 632.6,103.1 634.0,102.3 C635.3,101.5 636.7,100.7 638.0,100.0 C639.4,99.3 640.7,98.8 642.1,98.2 C643.5,97.6 644.8,97.0 646.2,96.3 C647.5,95.6 649.4,94.4 650.0,94.0" fill="none" stroke="#3a2410" stroke-width="4.00" stroke-linecap="round" opacity="0.19" filter="url(#blur2)"/>
<path d="M600.0,117.0 C600.7,116.7 602.9,116.1 604.3,115.4 C605.7,114.8 607.0,113.8 608.3,113.1 C609.7,112.3 610.9,111.4 612.4,110.8 C613.8,110.3 615.5,110.4 616.9,109.9 C618.4,109.3 619.7,108.4 621.1,107.8 C622.5,107.1 624.0,106.6 625.5,106.1 C626.9,105.6 628.6,105.4 630.0,104.8 C631.4,104.2 632.6,103.1 634.0,102.3 C635.3,101.5 636.7,100.7 638.0,100.0 C639.4,99.3 640.7,98.8 642.1,98.2 C643.5,97.6 644.8,97.0 646.2,96.3 C647.5,95.6 649.4,94.4 650.0,94.0" fill="none" stroke="#4a2c12" stroke-width="1.90" stroke-linecap="round" opacity="0.47" filter="url(#blur08)"/>
<path d="M617.8,193.8 C618.5,193.6 620.7,192.4 622.2,192.4 C623.7,192.4 625.4,193.5 626.9,193.6 C628.4,193.7 629.9,193.0 631.4,192.9 C632.9,192.7 634.4,192.7 635.9,192.5 C637.4,192.4 638.9,192.2 640.4,191.9 C641.9,191.6 643.4,190.5 644.9,190.6 C646.4,190.7 647.8,191.8 649.3,192.2 C650.8,192.7 652.4,192.6 653.9,193.3 C655.3,193.9 656.4,195.3 657.9,195.9 C659.4,196.4 661.1,196.0 662.7,196.4 C664.3,196.7 665.9,197.4 667.3,198.1 C668.6,198.8 669.6,199.8 670.8,200.6 C672.0,201.4 673.3,202.1 674.5,202.9 C675.7,203.7 676.7,204.8 678.0,205.5 C679.2,206.3 680.7,206.7 681.9,207.4 C683.2,208.1 684.5,208.7 685.7,209.6 C686.8,210.5 688.3,212.3 688.8,212.8" fill="none" stroke="#f0d8a8" stroke-width="2.07" stroke-linecap="round" opacity="0.26" filter="url(#blur1)"/>
<path d="M617.0,192.0 C617.7,191.8 619.9,190.6 621.4,190.6 C622.9,190.6 624.6,191.7 626.1,191.8 C627.6,191.9 629.1,191.2 630.6,191.1 C632.1,190.9 633.6,190.9 635.1,190.7 C636.6,190.6 638.1,190.4 639.6,190.1 C641.1,189.8 642.6,188.7 644.1,188.8 C645.6,188.9 647.0,190.0 648.5,190.4 C650.0,190.9 651.6,190.8 653.1,191.5 C654.5,192.1 655.6,193.5 657.1,194.1 C658.6,194.6 660.3,194.2 661.9,194.6 C663.5,194.9 665.1,195.6 666.5,196.3 C667.8,197.0 668.8,198.0 670.0,198.8 C671.2,199.6 672.5,200.3 673.7,201.1 C674.9,201.9 675.9,203.0 677.2,203.7 C678.4,204.5 679.9,204.9 681.1,205.6 C682.4,206.3 683.7,206.9 684.9,207.8 C686.0,208.7 687.5,210.5 688.0,211.0" fill="none" stroke="#3a2410" stroke-width="4.60" stroke-linecap="round" opacity="0.26" filter="url(#blur2)"/>
<path d="M617.0,192.0 C617.7,191.8 619.9,190.6 621.4,190.6 C622.9,190.6 624.6,191.7 626.1,191.8 C627.6,191.9 629.1,191.2 630.6,191.1 C632.1,190.9 633.6,190.9 635.1,190.7 C636.6,190.6 638.1,190.4 639.6,190.1 C641.1,189.8 642.6,188.7 644.1,188.8 C645.6,188.9 647.0,190.0 648.5,190.4 C650.0,190.9 651.6,190.8 653.1,191.5 C654.5,192.1 655.6,193.5 657.1,194.1 C658.6,194.6 660.3,194.2 661.9,194.6 C663.5,194.9 665.1,195.6 666.5,196.3 C667.8,197.0 668.8,198.0 670.0,198.8 C671.2,199.6 672.5,200.3 673.7,201.1 C674.9,201.9 675.9,203.0 677.2,203.7 C678.4,204.5 679.9,204.9 681.1,205.6 C682.4,206.3 683.7,206.9 684.9,207.8 C686.0,208.7 687.5,210.5 688.0,211.0" fill="none" stroke="#4a2c12" stroke-width="2.18" stroke-linecap="round" opacity="0.64" filter="url(#blur08)"/>
<path d="M619.8,194.8 C620.2,195.6 621.4,198.0 622.1,199.6 C622.8,201.2 623.4,202.9 623.9,204.5 C624.4,206.2 624.5,208.2 625.0,209.7 C625.6,211.2 627.0,212.0 627.4,213.4 C627.8,214.8 627.2,216.7 627.6,218.1 C628.0,219.5 629.1,220.6 629.8,221.9 C630.5,223.2 631.5,225.1 631.8,225.8" fill="none" stroke="#f0d8a8" stroke-width="1.89" stroke-linecap="round" opacity="0.24" filter="url(#blur1)"/>
<path d="M619.0,193.0 C619.4,193.8 620.6,196.2 621.3,197.8 C622.0,199.4 622.6,201.1 623.1,202.7 C623.6,204.4 623.7,206.4 624.2,207.9 C624.8,209.4 626.2,210.2 626.6,211.6 C627.0,213.0 626.4,214.9 626.8,216.3 C627.2,217.7 628.3,218.8 629.0,220.1 C629.7,221.4 630.7,223.3 631.0,224.0" fill="none" stroke="#3a2410" stroke-width="4.20" stroke-linecap="round" opacity="0.24" filter="url(#blur2)"/>
<path d="M619.0,193.0 C619.4,193.8 620.6,196.2 621.3,197.8 C622.0,199.4 622.6,201.1 623.1,202.7 C623.6,204.4 623.7,206.4 624.2,207.9 C624.8,209.4 626.2,210.2 626.6,211.6 C627.0,213.0 626.4,214.9 626.8,216.3 C627.2,217.7 628.3,218.8 629.0,220.1 C629.7,221.4 630.7,223.3 631.0,224.0" fill="none" stroke="#4a2c12" stroke-width="1.99" stroke-linecap="round" opacity="0.59" filter="url(#blur08)"/>
<path d="M700.8,159.8 C701.5,160.0 703.6,160.6 704.9,161.2 C706.2,161.8 707.3,162.6 708.5,163.4 C709.8,164.1 711.0,164.8 712.2,165.5 C713.4,166.2 714.6,167.0 715.9,167.6 C717.2,168.2 718.9,168.3 720.1,169.1 C721.4,169.9 722.2,171.6 723.5,172.4 C724.8,173.2 727.1,173.6 727.8,173.8" fill="none" stroke="#f0d8a8" stroke-width="1.62" stroke-linecap="round" opacity="0.17" filter="url(#blur1)"/>
<path d="M700.0,158.0 C700.7,158.2 702.8,158.8 704.1,159.4 C705.4,160.0 706.5,160.8 707.7,161.6 C709.0,162.3 710.2,163.0 711.4,163.7 C712.6,164.4 713.8,165.2 715.1,165.8 C716.4,166.4 718.1,166.5 719.3,167.3 C720.6,168.1 721.4,169.8 722.7,170.6 C724.0,171.4 726.3,171.8 727.0,172.0" fill="none" stroke="#3a2410" stroke-width="3.60" stroke-linecap="round" opacity="0.17" filter="url(#blur2)"/>
<path d="M700.0,158.0 C700.7,158.2 702.8,158.8 704.1,159.4 C705.4,160.0 706.5,160.8 707.7,161.6 C709.0,162.3 710.2,163.0 711.4,163.7 C712.6,164.4 713.8,165.2 715.1,165.8 C716.4,166.4 718.1,166.5 719.3,167.3 C720.6,168.1 721.4,169.8 722.7,170.6 C724.0,171.4 726.3,171.8 727.0,172.0" fill="none" stroke="#4a2c12" stroke-width="1.71" stroke-linecap="round" opacity="0.42" filter="url(#blur08)"/>
<path d="M560.8,161.8 C561.3,162.4 562.7,164.6 563.9,165.6 C565.2,166.6 567.0,166.9 568.3,167.7 C569.7,168.6 570.7,169.8 572.1,170.8 C573.4,171.7 575.5,172.3 576.6,173.5 C577.6,174.7 577.8,176.5 578.3,178.0 C578.8,179.5 579.1,181.2 579.6,182.7 C580.1,184.2 581.0,185.6 581.5,187.1 C582.0,188.6 582.6,191.0 582.8,191.8" fill="none" stroke="#f0d8a8" stroke-width="1.62" stroke-linecap="round" opacity="0.14" filter="url(#blur1)"/>
<path d="M560.0,160.0 C560.5,160.6 561.9,162.8 563.1,163.8 C564.4,164.8 566.2,165.1 567.5,165.9 C568.9,166.8 569.9,168.0 571.3,169.0 C572.6,169.9 574.7,170.5 575.8,171.7 C576.8,172.9 577.0,174.7 577.5,176.2 C578.0,177.7 578.3,179.4 578.8,180.9 C579.3,182.4 580.2,183.8 580.7,185.3 C581.2,186.8 581.8,189.2 582.0,190.0" fill="none" stroke="#3a2410" stroke-width="3.60" stroke-linecap="round" opacity="0.14" filter="url(#blur2)"/>
<path d="M560.0,160.0 C560.5,160.6 561.9,162.8 563.1,163.8 C564.4,164.8 566.2,165.1 567.5,165.9 C568.9,166.8 569.9,168.0 571.3,169.0 C572.6,169.9 574.7,170.5 575.8,171.7 C576.8,172.9 577.0,174.7 577.5,176.2 C578.0,177.7 578.3,179.4 578.8,180.9 C579.3,182.4 580.2,183.8 580.7,185.3 C581.2,186.8 581.8,189.2 582.0,190.0" fill="none" stroke="#4a2c12" stroke-width="1.71" stroke-linecap="round" opacity="0.34" filter="url(#blur08)"/>
<ellipse cx="688" cy="162" rx="2.6" ry="3.12" fill="#3a1e08" opacity="0.85" filter="url(#blur08)"/>
<ellipse cx="700" cy="205" rx="1.8" ry="2.16" fill="#3a1e08" opacity="0.55" filter="url(#blur08)"/>
</g>
<path d="M639.8,55.6 C647.5,55.4 658.2,55.7 666.7,57.5 C675.2,59.3 683.3,61.8 691.0,66.5 C698.7,71.2 706.8,78.2 713.0,85.7 C719.1,93.2 724.3,102.5 728.0,111.8 C731.8,121.0 734.4,131.5 735.5,141.2 C736.6,150.9 736.1,161.6 734.7,170.0 C733.3,178.5 730.1,186.5 727.2,191.8 C724.4,197.1 721.2,198.2 717.5,202.0 C713.8,205.8 711.3,210.1 705.1,214.7 C698.8,219.3 689.6,225.8 680.0,229.8 C670.5,233.8 658.7,237.8 647.8,238.8 C636.9,239.8 625.4,238.6 614.6,235.9 C603.8,233.2 592.1,228.8 582.9,222.7 C573.7,216.6 565.7,208.5 559.7,199.4 C553.6,190.3 549.1,178.5 546.6,168.2 C544.1,157.9 543.6,147.8 544.7,137.8 C545.8,127.9 548.6,117.6 553.2,108.5 C557.9,99.3 565.0,89.9 572.4,82.9 C579.8,75.9 589.5,70.3 597.5,66.3 C605.5,62.3 613.2,60.5 620.2,58.7 C627.3,56.9 632.0,55.8 639.8,55.6Z" fill="url(#sh3)"/>
<path d="M639.8,55.6 C647.5,55.4 658.2,55.7 666.7,57.5 C675.2,59.3 683.3,61.8 691.0,66.5 C698.7,71.2 706.8,78.2 713.0,85.7 C719.1,93.2 724.3,102.5 728.0,111.8 C731.8,121.0 734.4,131.5 735.5,141.2 C736.6,150.9 736.1,161.6 734.7,170.0 C733.3,178.5 730.1,186.5 727.2,191.8 C724.4,197.1 721.2,198.2 717.5,202.0 C713.8,205.8 711.3,210.1 705.1,214.7 C698.8,219.3 689.6,225.8 680.0,229.8 C670.5,233.8 658.7,237.8 647.8,238.8 C636.9,239.8 625.4,238.6 614.6,235.9 C603.8,233.2 592.1,228.8 582.9,222.7 C573.7,216.6 565.7,208.5 559.7,199.4 C553.6,190.3 549.1,178.5 546.6,168.2 C544.1,157.9 543.6,147.8 544.7,137.8 C545.8,127.9 548.6,117.6 553.2,108.5 C557.9,99.3 565.0,89.9 572.4,82.9 C579.8,75.9 589.5,70.3 597.5,66.3 C605.5,62.3 613.2,60.5 620.2,58.7 C627.3,56.9 632.0,55.8 639.8,55.6Z" fill="url(#rim3)"/>
<path d="M639.8,55.6 C647.5,55.4 658.2,55.7 666.7,57.5 C675.2,59.3 683.3,61.8 691.0,66.5 C698.7,71.2 706.8,78.2 713.0,85.7 C719.1,93.2 724.3,102.5 728.0,111.8 C731.8,121.0 734.4,131.5 735.5,141.2 C736.6,150.9 736.1,161.6 734.7,170.0 C733.3,178.5 730.1,186.5 727.2,191.8 C724.4,197.1 721.2,198.2 717.5,202.0 C713.8,205.8 711.3,210.1 705.1,214.7 C698.8,219.3 689.6,225.8 680.0,229.8 C670.5,233.8 658.7,237.8 647.8,238.8 C636.9,239.8 625.4,238.6 614.6,235.9 C603.8,233.2 592.1,228.8 582.9,222.7 C573.7,216.6 565.7,208.5 559.7,199.4 C553.6,190.3 549.1,178.5 546.6,168.2 C544.1,157.9 543.6,147.8 544.7,137.8 C545.8,127.9 548.6,117.6 553.2,108.5 C557.9,99.3 565.0,89.9 572.4,82.9 C579.8,75.9 589.5,70.3 597.5,66.3 C605.5,62.3 613.2,60.5 620.2,58.7 C627.3,56.9 632.0,55.8 639.8,55.6Z" fill="none" stroke="#4a2c10" stroke-width="1.6" opacity="0.45" filter="url(#blur08)"/>
</g>
<text x="532.70" y="51.30" font-family="Liberation Sans" font-size="18.8" font-weight="bold" text-anchor="start" fill="#000" stroke="#000" stroke-width="0.3">1% rooibos</text>
<line x1="99.95" y1="454.90" x2="99.95" y2="443.30" stroke="#333" stroke-width="1.15"/>
<line x1="95.80" y1="443.30" x2="104.10" y2="443.30" stroke="#333" stroke-width="1.15"/>
<line x1="117.45" y1="395.60" x2="117.45" y2="389.50" stroke="#333" stroke-width="1.15"/>
<line x1="113.30" y1="389.50" x2="121.60" y2="389.50" stroke="#333" stroke-width="1.15"/>
<rect x="91.90" y="453.90" width="16.10" height="162.90" fill="#000"/>
<rect x="109.75" y="395.25" width="15.40" height="221.55" fill="#cacaca" stroke="#3a3a3a" stroke-width="1.3"/>
<path d="M99.95,428.70L99.95,434.30M97.53,430.10L102.37,432.90M102.37,430.10L97.53,432.90" stroke="#000" stroke-width="1.4" fill="none"/>
<path d="M113.50,373.90L113.50,379.50M111.08,375.30L115.92,378.10M115.92,375.30L111.08,378.10" stroke="#000" stroke-width="1.4" fill="none"/>
<path d="M121.41,383.70L122.12,374.90M124.48,383.70L125.19,374.90" stroke="#000" stroke-width="1.3" fill="none"/>
<path d="M120.35,377.80L126.25,377.80M120.35,380.97L126.25,380.97" stroke="#000" stroke-width="1.15" fill="none"/>
<line x1="108.50" y1="616.80" x2="108.50" y2="621.50" stroke="#3a3a3a" stroke-width="1.3"/>
<text x="108.50" y="637.10" font-family="Liberation Sans" font-size="11.2" font-weight="normal" text-anchor="middle" fill="#000" stroke="#000" stroke-width="0.35">MGO</text>
<line x1="157.41" y1="477.00" x2="157.41" y2="454.10" stroke="#333" stroke-width="1.15"/>
<line x1="153.26" y1="454.10" x2="161.56" y2="454.10" stroke="#333" stroke-width="1.15"/>
<line x1="174.91" y1="445.20" x2="174.91" y2="420.00" stroke="#333" stroke-width="1.15"/>
<line x1="170.76" y1="420.00" x2="179.06" y2="420.00" stroke="#333" stroke-width="1.15"/>
<rect x="149.36" y="476.00" width="16.10" height="140.80" fill="#000"/>
<rect x="167.21" y="444.85" width="15.40" height="171.95" fill="#cacaca" stroke="#3a3a3a" stroke-width="1.3"/>
<path d="M157.41,440.20L157.41,445.80M154.99,441.60L159.83,444.40M159.83,441.60L154.99,444.40" stroke="#000" stroke-width="1.4" fill="none"/>
<path d="M174.91,407.70L174.91,413.30M172.49,409.10L177.33,411.90M177.33,409.10L172.49,411.90" stroke="#000" stroke-width="1.4" fill="none"/>
<line x1="165.96" y1="616.80" x2="165.96" y2="621.50" stroke="#3a3a3a" stroke-width="1.3"/>
<text x="165.96" y="637.10" font-family="Liberation Sans" font-size="11.2" font-weight="normal" text-anchor="middle" fill="#000" stroke="#000" stroke-width="0.35">GO</text>
<line x1="214.87" y1="491.30" x2="214.87" y2="460.50" stroke="#333" stroke-width="1.15"/>
<line x1="210.72" y1="460.50" x2="219.02" y2="460.50" stroke="#333" stroke-width="1.15"/>
<line x1="232.37" y1="402.20" x2="232.37" y2="386.40" stroke="#333" stroke-width="1.15"/>
<line x1="228.22" y1="386.40" x2="236.52" y2="386.40" stroke="#333" stroke-width="1.15"/>
<rect x="206.82" y="490.30" width="16.10" height="126.50" fill="#000"/>
<rect x="224.67" y="401.85" width="15.40" height="214.95" fill="#cacaca" stroke="#3a3a3a" stroke-width="1.3"/>
<path d="M214.87,449.20L214.87,454.80M212.45,450.60L217.29,453.40M217.29,450.60L212.45,453.40" stroke="#000" stroke-width="1.4" fill="none"/>
<path d="M228.42,373.40L228.42,379.00M226.00,374.80L230.84,377.60M230.84,374.80L226.00,377.60" stroke="#000" stroke-width="1.4" fill="none"/>
<path d="M236.33,383.20L237.04,374.40M239.40,383.20L240.11,374.40" stroke="#000" stroke-width="1.3" fill="none"/>
<path d="M235.27,377.30L241.17,377.30M235.27,380.47L241.17,380.47" stroke="#000" stroke-width="1.15" fill="none"/>
<line x1="223.42" y1="616.80" x2="223.42" y2="621.50" stroke="#3a3a3a" stroke-width="1.3"/>
<text x="223.42" y="637.10" font-family="Liberation Sans" font-size="11.2" font-weight="normal" text-anchor="middle" fill="#000" stroke="#000" stroke-width="0.35">DA</text>
<line x1="272.33" y1="458.90" x2="272.33" y2="448.00" stroke="#333" stroke-width="1.15"/>
<line x1="268.18" y1="448.00" x2="276.48" y2="448.00" stroke="#333" stroke-width="1.15"/>
<line x1="289.83" y1="417.00" x2="289.83" y2="412.90" stroke="#333" stroke-width="1.15"/>
<line x1="285.68" y1="412.90" x2="293.98" y2="412.90" stroke="#333" stroke-width="1.15"/>
<rect x="264.28" y="457.90" width="16.10" height="158.90" fill="#000"/>
<rect x="282.13" y="416.65" width="15.40" height="200.15" fill="#cacaca" stroke="#3a3a3a" stroke-width="1.3"/>
<path d="M272.33,437.20L272.33,442.80M269.91,438.60L274.75,441.40M274.75,438.60L269.91,441.40" stroke="#000" stroke-width="1.4" fill="none"/>
<path d="M285.88,397.70L285.88,403.30M283.46,399.10L288.30,401.90M288.30,399.10L283.46,401.90" stroke="#000" stroke-width="1.4" fill="none"/>
<path d="M293.79,407.50L294.50,398.70M296.86,407.50L297.57,398.70" stroke="#000" stroke-width="1.3" fill="none"/>
<path d="M292.73,401.60L298.63,401.60M292.73,404.77L298.63,404.77" stroke="#000" stroke-width="1.15" fill="none"/>
<line x1="280.88" y1="616.80" x2="280.88" y2="621.50" stroke="#3a3a3a" stroke-width="1.3"/>
<text x="280.88" y="637.10" font-family="Liberation Sans" font-size="11.2" font-weight="normal" text-anchor="middle" fill="#000" stroke="#000" stroke-width="0.35">3-DG</text>
<line x1="329.79" y1="530.10" x2="329.79" y2="509.50" stroke="#333" stroke-width="1.15"/>
<line x1="325.64" y1="509.50" x2="333.94" y2="509.50" stroke="#333" stroke-width="1.15"/>
<line x1="347.29" y1="464.90" x2="347.29" y2="457.40" stroke="#333" stroke-width="1.15"/>
<line x1="343.14" y1="457.40" x2="351.44" y2="457.40" stroke="#333" stroke-width="1.15"/>
<rect x="321.74" y="529.10" width="16.10" height="87.70" fill="#000"/>
<rect x="339.59" y="464.55" width="15.40" height="152.25" fill="#cacaca" stroke="#3a3a3a" stroke-width="1.3"/>
<path d="M329.79,497.20L329.79,502.80M327.37,498.60L332.21,501.40M332.21,498.60L327.37,501.40" stroke="#000" stroke-width="1.4" fill="none"/>
<path d="M343.34,441.90L343.34,447.50M340.92,443.30L345.76,446.10M345.76,443.30L340.92,446.10" stroke="#000" stroke-width="1.4" fill="none"/>
<path d="M351.25,451.70L351.96,442.90M354.32,451.70L355.03,442.90" stroke="#000" stroke-width="1.3" fill="none"/>
<path d="M350.19,445.80L356.09,445.80M350.19,448.97L356.09,448.97" stroke="#000" stroke-width="1.15" fill="none"/>
<line x1="338.34" y1="616.80" x2="338.34" y2="621.50" stroke="#3a3a3a" stroke-width="1.3"/>
<text x="338.34" y="637.10" font-family="Liberation Sans" font-size="11.2" font-weight="normal" text-anchor="middle" fill="#000" stroke="#000" stroke-width="0.35">3-DGal</text>
<line x1="387.25" y1="588.30" x2="387.25" y2="567.60" stroke="#333" stroke-width="1.15"/>
<line x1="383.10" y1="567.60" x2="391.40" y2="567.60" stroke="#333" stroke-width="1.15"/>
<line x1="404.75" y1="533.30" x2="404.75" y2="526.50" stroke="#333" stroke-width="1.15"/>
<line x1="400.60" y1="526.50" x2="408.90" y2="526.50" stroke="#333" stroke-width="1.15"/>
<rect x="379.20" y="587.30" width="16.10" height="29.50" fill="#000"/>
<rect x="397.05" y="532.95" width="15.40" height="83.85" fill="#cacaca" stroke="#3a3a3a" stroke-width="1.3"/>
<path d="M387.25,554.80L387.25,560.40M384.83,556.20L389.67,559.00M389.67,556.20L384.83,559.00" stroke="#000" stroke-width="1.4" fill="none"/>
<path d="M400.80,512.90L400.80,518.50M398.38,514.30L403.22,517.10M403.22,514.30L398.38,517.10" stroke="#000" stroke-width="1.4" fill="none"/>
<path d="M408.71,522.70L409.42,513.90M411.78,522.70L412.49,513.90" stroke="#000" stroke-width="1.3" fill="none"/>
<path d="M407.65,516.80L413.55,516.80M407.65,519.97L413.55,519.97" stroke="#000" stroke-width="1.15" fill="none"/>
<line x1="395.80" y1="616.80" x2="395.80" y2="621.50" stroke="#3a3a3a" stroke-width="1.3"/>
<text x="395.80" y="637.10" font-family="Liberation Sans" font-size="11.2" font-weight="normal" text-anchor="middle" fill="#000" stroke="#000" stroke-width="0.35">Glucosone</text>
<rect x="51.20" y="326.40" width="402.10" height="290.40" fill="none" stroke="#3a3a3a" stroke-width="1.3"/>
<line x1="46.20" y1="368.50" x2="51.20" y2="368.50" stroke="#3a3a3a" stroke-width="1.3"/>
<text x="41.00" y="372.29" font-family="Liberation Sans" font-size="10.6" font-weight="normal" text-anchor="end" fill="#000" stroke="#000" stroke-width="0.35">80</text>
<line x1="46.20" y1="451.20" x2="51.20" y2="451.20" stroke="#3a3a3a" stroke-width="1.3"/>
<text x="41.00" y="454.99" font-family="Liberation Sans" font-size="10.6" font-weight="normal" text-anchor="end" fill="#000" stroke="#000" stroke-width="0.35">60</text>
<line x1="46.20" y1="533.80" x2="51.20" y2="533.80" stroke="#3a3a3a" stroke-width="1.3"/>
<text x="41.00" y="537.59" font-family="Liberation Sans" font-size="10.6" font-weight="normal" text-anchor="end" fill="#000" stroke="#000" stroke-width="0.35">40</text>
<line x1="46.20" y1="616.80" x2="51.20" y2="616.80" stroke="#3a3a3a" stroke-width="1.3"/>
<text x="41.00" y="620.59" font-family="Liberation Sans" font-size="10.6" font-weight="normal" text-anchor="end" fill="#000" stroke="#000" stroke-width="0.35">20</text>
<text transform="translate(16.10,471.35) rotate(-90)" font-family="Liberation Sans" font-size="13.8" text-anchor="middle" stroke="#000" stroke-width="0.35">Inhibition (%)</text>
<rect x="368.70" y="332.60" width="74.30" height="41.90" fill="#fff" stroke="#3a3a3a" stroke-width="1.3"/>
<rect x="376.90" y="343.10" width="25.90" height="8.70" fill="#000"/>
<rect x="377.50" y="355.90" width="24.70" height="8.00" fill="#cacaca" stroke="#3a3a3a" stroke-width="1.2"/>
<text x="409.30" y="351.10" font-family="Liberation Sans" font-size="10.8" font-weight="normal" text-anchor="start" fill="#000" stroke="#000" stroke-width="0.35">0.5%</text>
<text x="409.30" y="363.70" font-family="Liberation Sans" font-size="10.8" font-weight="normal" text-anchor="start" fill="#000" stroke="#000" stroke-width="0.35">1%</text>
<line x1="87.95" y1="893.40" x2="87.95" y2="863.50" stroke="#999" stroke-width="0.85"/>
<line x1="85.15" y1="863.50" x2="90.75" y2="863.50" stroke="#999" stroke-width="0.85"/>
<line x1="98.50" y1="805.10" x2="98.50" y2="801.30" stroke="#999" stroke-width="0.85"/>
<line x1="95.70" y1="801.30" x2="101.30" y2="801.30" stroke="#999" stroke-width="0.85"/>
<rect x="83.00" y="892.40" width="9.90" height="106.00" fill="#000"/>
<rect x="93.65" y="804.55" width="9.70" height="193.85" fill="#cacaca" stroke="#9a9a9a" stroke-width="0.9"/>
<path d="M87.95,852.40L87.95,856.60M86.13,853.45L89.77,855.55M89.77,853.45L86.13,855.55" stroke="#000" stroke-width="1.3" fill="none"/>
<path d="M95.10,787.50L95.10,791.70M93.28,788.55L96.92,790.65M96.92,788.55L93.28,790.65" stroke="#000" stroke-width="1.3" fill="none"/>
<path d="M101.80,795.40L102.40,787.80M104.40,795.40L105.00,787.80" stroke="#000" stroke-width="1.2" fill="none"/>
<path d="M100.90,790.31L105.90,790.31M100.90,793.04L105.90,793.04" stroke="#000" stroke-width="1.05" fill="none"/>
<line x1="92.90" y1="998.40" x2="92.90" y2="1002.70" stroke="#555" stroke-width="1.15"/>
<text x="92.90" y="1017.80" font-family="Liberation Sans" font-size="10.8" font-weight="normal" text-anchor="middle" fill="#000" stroke="#000" stroke-width="0.35">CML</text>
<line x1="131.50" y1="892.90" x2="131.50" y2="865.00" stroke="#999" stroke-width="0.85"/>
<line x1="128.70" y1="865.00" x2="134.30" y2="865.00" stroke="#999" stroke-width="0.85"/>
<line x1="142.05" y1="803.00" x2="142.05" y2="791.40" stroke="#999" stroke-width="0.85"/>
<line x1="139.25" y1="791.40" x2="144.85" y2="791.40" stroke="#999" stroke-width="0.85"/>
<rect x="126.55" y="891.90" width="9.90" height="106.50" fill="#000"/>
<rect x="137.20" y="802.45" width="9.70" height="195.95" fill="#cacaca" stroke="#9a9a9a" stroke-width="0.9"/>
<path d="M131.50,853.80L131.50,858.00M129.68,854.85L133.32,856.95M133.32,854.85L129.68,856.95" stroke="#000" stroke-width="1.3" fill="none"/>
<path d="M138.65,779.60L138.65,783.80M136.83,780.65L140.47,782.75M140.47,780.65L136.83,782.75" stroke="#000" stroke-width="1.3" fill="none"/>
<path d="M145.35,787.50L145.95,779.90M147.95,787.50L148.55,779.90" stroke="#000" stroke-width="1.2" fill="none"/>
<path d="M144.45,782.41L149.45,782.41M144.45,785.14L149.45,785.14" stroke="#000" stroke-width="1.05" fill="none"/>
<line x1="136.45" y1="998.40" x2="136.45" y2="1002.70" stroke="#555" stroke-width="1.15"/>
<text x="136.45" y="1017.80" font-family="Liberation Sans" font-size="10.8" font-weight="normal" text-anchor="middle" fill="#000" stroke="#000" stroke-width="0.35">CEL</text>
<line x1="175.05" y1="866.50" x2="175.05" y2="846.10" stroke="#999" stroke-width="0.85"/>
<line x1="172.25" y1="846.10" x2="177.85" y2="846.10" stroke="#999" stroke-width="0.85"/>
<line x1="185.60" y1="799.20" x2="185.60" y2="781.60" stroke="#999" stroke-width="0.85"/>
<line x1="182.80" y1="781.60" x2="188.40" y2="781.60" stroke="#999" stroke-width="0.85"/>
<rect x="170.10" y="865.50" width="9.90" height="132.90" fill="#000"/>
<rect x="180.75" y="798.65" width="9.70" height="199.75" fill="#cacaca" stroke="#9a9a9a" stroke-width="0.9"/>
<path d="M175.05,837.80L175.05,842.00M173.23,838.85L176.87,840.95M176.87,838.85L173.23,840.95" stroke="#000" stroke-width="1.3" fill="none"/>
<path d="M182.20,771.30L182.20,775.50M180.38,772.35L184.02,774.45M184.02,772.35L180.38,774.45" stroke="#000" stroke-width="1.3" fill="none"/>
<path d="M188.90,779.20L189.50,771.60M191.50,779.20L192.10,771.60" stroke="#000" stroke-width="1.2" fill="none"/>
<path d="M188.00,774.11L193.00,774.11M188.00,776.84L193.00,776.84" stroke="#000" stroke-width="1.05" fill="none"/>
<line x1="180.00" y1="998.40" x2="180.00" y2="1002.70" stroke="#555" stroke-width="1.15"/>
<text x="180.00" y="1017.80" font-family="Liberation Sans" font-size="10.8" font-weight="normal" text-anchor="middle" fill="#000" stroke="#000" stroke-width="0.35">MG-H1</text>
<line x1="218.60" y1="907.00" x2="218.60" y2="869.00" stroke="#999" stroke-width="0.85"/>
<line x1="215.80" y1="869.00" x2="221.40" y2="869.00" stroke="#999" stroke-width="0.85"/>
<line x1="229.15" y1="834.90" x2="229.15" y2="822.40" stroke="#999" stroke-width="0.85"/>
<line x1="226.35" y1="822.40" x2="231.95" y2="822.40" stroke="#999" stroke-width="0.85"/>
<rect x="213.65" y="906.00" width="9.90" height="92.40" fill="#000"/>
<rect x="224.30" y="834.35" width="9.70" height="164.05" fill="#cacaca" stroke="#9a9a9a" stroke-width="0.9"/>
<path d="M218.60,860.90L218.60,865.10M216.78,861.95L220.42,864.05M220.42,861.95L216.78,864.05" stroke="#000" stroke-width="1.3" fill="none"/>
<path d="M225.75,811.20L225.75,815.40M223.93,812.25L227.57,814.35M227.57,812.25L223.93,814.35" stroke="#000" stroke-width="1.3" fill="none"/>
<path d="M232.45,819.10L233.05,811.50M235.05,819.10L235.65,811.50" stroke="#000" stroke-width="1.2" fill="none"/>
<path d="M231.55,814.01L236.55,814.01M231.55,816.74L236.55,816.74" stroke="#000" stroke-width="1.05" fill="none"/>
<line x1="223.55" y1="998.40" x2="223.55" y2="1002.70" stroke="#555" stroke-width="1.15"/>
<text x="223.55" y="1017.80" font-family="Liberation Sans" font-size="10.8" font-weight="normal" text-anchor="middle" fill="#000" stroke="#000" stroke-width="0.35">G-H1</text>
<line x1="262.15" y1="870.00" x2="262.15" y2="833.00" stroke="#999" stroke-width="0.85"/>
<line x1="259.35" y1="833.00" x2="264.95" y2="833.00" stroke="#999" stroke-width="0.85"/>
<line x1="272.70" y1="780.10" x2="272.70" y2="765.80" stroke="#999" stroke-width="0.85"/>
<line x1="269.90" y1="765.80" x2="275.50" y2="765.80" stroke="#999" stroke-width="0.85"/>
<rect x="257.20" y="869.00" width="9.90" height="129.40" fill="#000"/>
<rect x="267.85" y="779.55" width="9.70" height="218.85" fill="#cacaca" stroke="#9a9a9a" stroke-width="0.9"/>
<path d="M262.15,823.60L262.15,827.80M260.33,824.65L263.97,826.75M263.97,824.65L260.33,826.75" stroke="#000" stroke-width="1.3" fill="none"/>
<path d="M269.30,756.20L269.30,760.40M267.48,757.25L271.12,759.35M271.12,757.25L267.48,759.35" stroke="#000" stroke-width="1.3" fill="none"/>
<path d="M276.00,764.10L276.60,756.50M278.60,764.10L279.20,756.50" stroke="#000" stroke-width="1.2" fill="none"/>
<path d="M275.10,759.01L280.10,759.01M275.10,761.74L280.10,761.74" stroke="#000" stroke-width="1.05" fill="none"/>
<line x1="267.10" y1="998.40" x2="267.10" y2="1002.70" stroke="#555" stroke-width="1.15"/>
<text x="267.10" y="1017.80" font-family="Liberation Sans" font-size="10.8" font-weight="normal" text-anchor="middle" fill="#000" stroke="#000" stroke-width="0.35">MOLD</text>
<line x1="305.70" y1="830.00" x2="305.70" y2="782.40" stroke="#999" stroke-width="0.85"/>
<line x1="302.90" y1="782.40" x2="308.50" y2="782.40" stroke="#999" stroke-width="0.85"/>
<line x1="316.25" y1="753.10" x2="316.25" y2="743.40" stroke="#999" stroke-width="0.85"/>
<line x1="313.45" y1="743.40" x2="319.05" y2="743.40" stroke="#999" stroke-width="0.85"/>
<rect x="300.75" y="829.00" width="9.90" height="169.40" fill="#000"/>
<rect x="311.40" y="752.55" width="9.70" height="245.85" fill="#cacaca" stroke="#9a9a9a" stroke-width="0.9"/>
<path d="M305.70,773.00L305.70,777.20M303.88,774.05L307.52,776.15M307.52,774.05L303.88,776.15" stroke="#000" stroke-width="1.3" fill="none"/>
<path d="M312.85,733.00L312.85,737.20M311.03,734.05L314.67,736.15M314.67,734.05L311.03,736.15" stroke="#000" stroke-width="1.3" fill="none"/>
<path d="M319.55,740.90L320.15,733.30M322.15,740.90L322.75,733.30" stroke="#000" stroke-width="1.2" fill="none"/>
<path d="M318.65,735.81L323.65,735.81M318.65,738.54L323.65,738.54" stroke="#000" stroke-width="1.05" fill="none"/>
<line x1="310.65" y1="998.40" x2="310.65" y2="1002.70" stroke="#555" stroke-width="1.15"/>
<text x="310.65" y="1017.80" font-family="Liberation Sans" font-size="10.8" font-weight="normal" text-anchor="middle" fill="#000" stroke="#000" stroke-width="0.35">GOLD</text>
<line x1="349.25" y1="935.60" x2="349.25" y2="853.70" stroke="#999" stroke-width="0.85"/>
<line x1="346.45" y1="853.70" x2="352.05" y2="853.70" stroke="#999" stroke-width="0.85"/>
<line x1="359.80" y1="853.90" x2="359.80" y2="834.40" stroke="#999" stroke-width="0.85"/>
<line x1="357.00" y1="834.40" x2="362.60" y2="834.40" stroke="#999" stroke-width="0.85"/>
<rect x="344.30" y="934.60" width="9.90" height="63.80" fill="#000"/>
<rect x="354.95" y="853.35" width="9.70" height="145.05" fill="#cacaca" stroke="#9a9a9a" stroke-width="0.9"/>
<path d="M349.25,845.70L349.25,849.90M347.43,846.75L351.07,848.85M351.07,846.75L347.43,848.85" stroke="#000" stroke-width="1.3" fill="none"/>
<path d="M359.80,824.70L359.80,828.90M357.98,825.75L361.62,827.85M361.62,825.75L357.98,827.85" stroke="#000" stroke-width="1.3" fill="none"/>
<line x1="354.20" y1="998.40" x2="354.20" y2="1002.70" stroke="#555" stroke-width="1.15"/>
<text x="354.20" y="1017.80" font-family="Liberation Sans" font-size="10.8" font-weight="normal" text-anchor="middle" fill="#000" stroke="#000" stroke-width="0.35">LAN</text>
<line x1="392.80" y1="956.00" x2="392.80" y2="892.30" stroke="#999" stroke-width="0.85"/>
<line x1="390.00" y1="892.30" x2="395.60" y2="892.30" stroke="#999" stroke-width="0.85"/>
<line x1="403.35" y1="905.90" x2="403.35" y2="875.40" stroke="#999" stroke-width="0.85"/>
<line x1="400.55" y1="875.40" x2="406.15" y2="875.40" stroke="#999" stroke-width="0.85"/>
<rect x="387.85" y="955.00" width="9.90" height="43.40" fill="#000"/>
<rect x="398.50" y="905.35" width="9.70" height="93.05" fill="#cacaca" stroke="#9a9a9a" stroke-width="0.9"/>
<path d="M392.80,882.90L392.80,887.10M390.98,883.95L394.62,886.05M394.62,883.95L390.98,886.05" stroke="#000" stroke-width="1.3" fill="none"/>
<path d="M403.35,867.20L403.35,871.40M401.53,868.25L405.17,870.35M405.17,868.25L401.53,870.35" stroke="#000" stroke-width="1.3" fill="none"/>
<line x1="397.75" y1="998.40" x2="397.75" y2="1002.70" stroke="#555" stroke-width="1.15"/>
<text x="397.75" y="1017.80" font-family="Liberation Sans" font-size="10.8" font-weight="normal" text-anchor="middle" fill="#000" stroke="#000" stroke-width="0.35">Furosine</text>
<rect x="49.50" y="717.80" width="391.50" height="280.60" fill="none" stroke="#333" stroke-width="1.15"/>
<line x1="49.50" y1="717.22" x2="49.50" y2="998.98" stroke="#000" stroke-width="1.15"/>
<line x1="45.00" y1="757.60" x2="49.50" y2="757.60" stroke="#555" stroke-width="1.15"/>
<text x="39.80" y="761.39" font-family="Liberation Sans" font-size="10.6" font-weight="normal" text-anchor="end" fill="#000" stroke="#000" stroke-width="0.35">80</text>
<line x1="45.00" y1="838.10" x2="49.50" y2="838.10" stroke="#555" stroke-width="1.15"/>
<text x="39.80" y="841.89" font-family="Liberation Sans" font-size="10.6" font-weight="normal" text-anchor="end" fill="#000" stroke="#000" stroke-width="0.35">60</text>
<line x1="45.00" y1="918.70" x2="49.50" y2="918.70" stroke="#555" stroke-width="1.15"/>
<text x="39.80" y="922.49" font-family="Liberation Sans" font-size="10.6" font-weight="normal" text-anchor="end" fill="#000" stroke="#000" stroke-width="0.35">40</text>
<line x1="45.00" y1="998.40" x2="49.50" y2="998.40" stroke="#555" stroke-width="1.15"/>
<text x="39.80" y="1002.19" font-family="Liberation Sans" font-size="10.6" font-weight="normal" text-anchor="end" fill="#000" stroke="#000" stroke-width="0.35">20</text>
<text transform="translate(15.30,857.65) rotate(-90)" font-family="Liberation Sans" font-size="13.2" text-anchor="middle" stroke="#000" stroke-width="0.35">Inhibition (%)</text>
<rect x="358.40" y="726.20" width="74.90" height="40.00" fill="#fff" stroke="#333" stroke-width="1.15"/>
<rect x="366.50" y="736.60" width="25.00" height="7.80" fill="#000"/>
<rect x="366.80" y="748.60" width="24.40" height="7.50" fill="#cacaca" stroke="#c0c0c0" stroke-width="0.6"/>
<text x="397.70" y="743.70" font-family="Liberation Sans" font-size="10.8" font-weight="normal" text-anchor="start" fill="#000" stroke="#000" stroke-width="0.35">0.5%</text>
<text x="397.70" y="756.00" font-family="Liberation Sans" font-size="10.8" font-weight="normal" text-anchor="start" fill="#000" stroke="#000" stroke-width="0.35">1%</text>
<text x="0.50" y="14.80" font-family="Liberation Serif" font-size="20" font-weight="normal" text-anchor="start" fill="#000" >(A)</text>
<text x="0.50" y="279.20" font-family="Liberation Serif" font-size="20" font-weight="normal" text-anchor="start" fill="#000" >(B)</text>
<text x="0.50" y="670.80" font-family="Liberation Serif" font-size="20" font-weight="normal" text-anchor="start" fill="#000" >(C)</text>
</svg>
</body></html>
